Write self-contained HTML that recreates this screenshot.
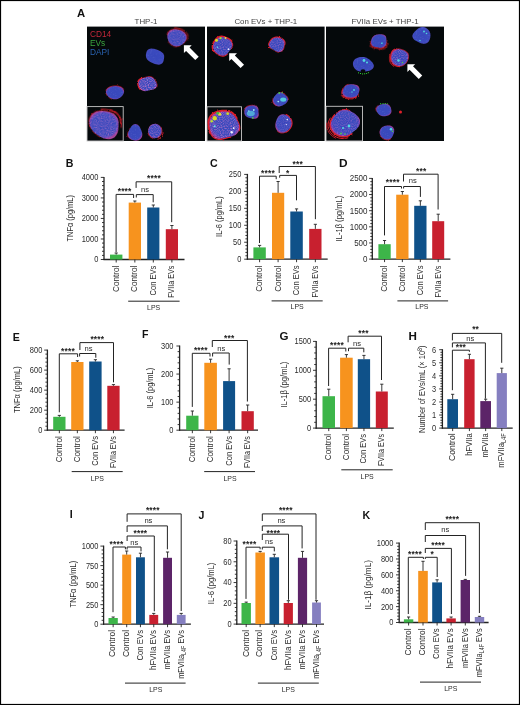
<!DOCTYPE html>
<html><head><meta charset="utf-8"><title>Figure</title>
<style>
html,body{margin:0;padding:0;background:#fff;}
body{width:520px;height:705px;overflow:hidden;font-family:"Liberation Sans", sans-serif;}
svg{display:block;will-change:transform;}
</style></head><body>
<svg width="520" height="705" viewBox="0 0 520 705" font-family='"Liberation Sans", sans-serif'><defs>
<radialGradient id="cg" cx="50%" cy="50%" r="50%">
<stop offset="0" stop-color="#3848bc"/><stop offset="0.8" stop-color="#3a4abe"/><stop offset="1" stop-color="#4448bc"/>
</radialGradient>
<radialGradient id="cgr" cx="50%" cy="50%" r="50%">
<stop offset="0" stop-color="#3848bc"/><stop offset="0.82" stop-color="#3b4abd"/><stop offset="0.95" stop-color="#6444b6"/><stop offset="1" stop-color="#983c94"/>
</radialGradient>
<filter id="speck" x="0" y="0" width="100%" height="100%">
<feTurbulence type="fractalNoise" baseFrequency="0.7" numOctaves="1" seed="3" result="n"/>
<feColorMatrix in="n" type="matrix" values="0 0 0 0 0.42  0 0 0 0 0.48  0 0 0 0 0.88  0 0 0 3 -1.6" result="m"/>
<feComposite in="m" in2="SourceGraphic" operator="in"/>
</filter>
<filter id="pspeck" x="0" y="0" width="100%" height="100%">
<feTurbulence type="fractalNoise" baseFrequency="0.9" numOctaves="1" seed="5" result="n"/>
<feColorMatrix in="n" type="matrix" values="0 0 0 0 0.92  0 0 0 0 0.25  0 0 0 0 0.62  0 0 0 3 -1.25" result="m"/>
<feComposite in="m" in2="SourceGraphic" operator="in"/>
</filter>
<filter id="rough" x="-40%" y="-40%" width="180%" height="180%">
<feTurbulence type="fractalNoise" baseFrequency="0.8" numOctaves="2" seed="7" result="n"/>
<feDisplacementMap in="SourceGraphic" in2="n" scale="2.2" xChannelSelector="R" yChannelSelector="G"/>
</filter>
</defs><rect x="0" y="0" width="520" height="705" fill="#fff"/><text x="77" y="17" font-size="11.3" font-weight="bold" fill="#111">A</text><rect x="87" y="26.6" width="118" height="114.4" fill="#05090b"/><text x="146" y="23.9" text-anchor="middle" font-size="7.9" fill="#444">THP-1</text><rect x="207" y="26.6" width="117.6" height="114.4" fill="#05090b"/><text x="265.8" y="23.9" text-anchor="middle" font-size="7.9" fill="#444">Con EVs + THP-1</text><rect x="326" y="26.6" width="118" height="114.4" fill="#05090b"/><text x="385" y="23.9" text-anchor="middle" font-size="7.9" fill="#444">FVIIa EVs + THP-1</text><text x="90" y="36.8" font-size="8.3" fill="#c4283a">CD14</text><text x="90" y="45.9" font-size="8.3" fill="#3ba53f">EVs</text><text x="90" y="54.6" font-size="8.3" fill="#2a62b0">DAPI</text><g transform="translate(176.7,37.6) rotate(10)"><path d="M-9.87 -1.54 L-9.71 -2.81 L-9.29 -4.05 L-8.59 -5.19 L-7.65 -6.18 L-6.51 -6.99 L-5.23 -7.58 L-3.89 -7.98 L-2.52 -8.2 L-1.17 -8.28 L0.15 -8.25 L1.47 -8.15 L2.77 -7.95 L4.08 -7.66 L5.37 -7.22 L6.6 -6.63 L7.73 -5.84 L8.69 -4.88 L9.41 -3.76 L9.87 -2.54 L10.05 -1.27 L9.97 -0" stroke="#dc1e2a" stroke-width="0.82" fill="none" stroke-linecap="round" filter="url(#rough)"/><path d="M9.92 0 L9.69 1 L9.34 1.96 L8.9 2.87 L8.39 3.73 L7.81 4.55 L7.18 5.34" stroke="#dc1e2a" stroke-width="0.66" fill="none" stroke-linecap="round" filter="url(#rough)"/><path d="M4.87 7.46 L3.72 8.15 L2.44 8.67 L1.07 9 L-0.36 9.08 L-1.78 8.92 L-3.13 8.52 L-4.36 7.91 L-5.45 7.15 L-6.39 6.28 L-7.19 5.34" stroke="#dc1e2a" stroke-width="0.66" fill="none" stroke-linecap="round" filter="url(#rough)"/><path d="M-3.78 -9.2 L-2.19 -9.38 L-0.62 -9.42 L0.92 -9.34 L2.45 -9.16 L3.98 -8.88 L5.5 -8.44 L6.98 -7.82 L8.36 -6.98 L9.56 -5.93 L10.5 -4.67 L11.12 -3.26 L11.41 -1.78" stroke="#dc1e2a" stroke-width="0.8" fill="none" stroke-linecap="round" filter="url(#rough)"/><path d="M9.72 0 L9.46 1.1 L9.05 2.15 L8.54 3.13 L7.94 4.06 L7.28 4.94 L6.54 5.79 L5.71 6.58 L4.77 7.31 L3.72 7.95 L2.56 8.45 L1.3 8.77 L0 8.9 L-1.31 8.81 L-2.58 8.52 L-3.76 8.03 L-4.82 7.4 L-5.76 6.65 L-6.57 5.82 L-7.27 4.94 L-7.88 4.03 L-8.41 3.08 L-8.87 2.1 L-9.25 1.08 L-9.51 0 L-9.63 -1.12 L-9.56 -2.27 L-9.28 -3.4 L-8.77 -4.48 L-8.04 -5.46 L-7.12 -6.3 L-6.05 -6.98 L-4.87 -7.48 L-3.65 -7.81 L-2.42 -8 L-1.2 -8.07 L-0 -8.06 L1.18 -7.97 L2.36 -7.81 L3.54 -7.58 L4.72 -7.24 L5.86 -6.77 L6.94 -6.15 L7.91 -5.37 L8.71 -4.45 L9.3 -3.41 L9.67 -2.29 L9.8 -1.14 L9.72 -0Z" fill="url(#cgr)"/><path d="M9.72 0 L9.46 1.1 L9.05 2.15 L8.54 3.13 L7.94 4.06 L7.28 4.94 L6.54 5.79 L5.71 6.58 L4.77 7.31 L3.72 7.95 L2.56 8.45 L1.3 8.77 L0 8.9 L-1.31 8.81 L-2.58 8.52 L-3.76 8.03 L-4.82 7.4 L-5.76 6.65 L-6.57 5.82 L-7.27 4.94 L-7.88 4.03 L-8.41 3.08 L-8.87 2.1 L-9.25 1.08 L-9.51 0 L-9.63 -1.12 L-9.56 -2.27 L-9.28 -3.4 L-8.77 -4.48 L-8.04 -5.46 L-7.12 -6.3 L-6.05 -6.98 L-4.87 -7.48 L-3.65 -7.81 L-2.42 -8 L-1.2 -8.07 L-0 -8.06 L1.18 -7.97 L2.36 -7.81 L3.54 -7.58 L4.72 -7.24 L5.86 -6.77 L6.94 -6.15 L7.91 -5.37 L8.71 -4.45 L9.3 -3.41 L9.67 -2.29 L9.8 -1.14 L9.72 -0Z" fill="#7080e8" opacity="0.15" filter="url(#speck)"/><path d="M9.72 0 L9.46 1.1 L9.05 2.15 L8.54 3.13 L7.94 4.06 L7.28 4.94 L6.54 5.79 L5.71 6.58 L4.77 7.31 L3.72 7.95 L2.56 8.45 L1.3 8.77 L0 8.9 L-1.31 8.81 L-2.58 8.52 L-3.76 8.03 L-4.82 7.4 L-5.76 6.65 L-6.57 5.82 L-7.27 4.94 L-7.88 4.03 L-8.41 3.08 L-8.87 2.1 L-9.25 1.08 L-9.51 0 L-9.63 -1.12 L-9.56 -2.27 L-9.28 -3.4 L-8.77 -4.48 L-8.04 -5.46 L-7.12 -6.3 L-6.05 -6.98 L-4.87 -7.48 L-3.65 -7.81 L-2.42 -8 L-1.2 -8.07 L-0 -8.06 L1.18 -7.97 L2.36 -7.81 L3.54 -7.58 L4.72 -7.24 L5.86 -6.77 L6.94 -6.15 L7.91 -5.37 L8.71 -4.45 L9.3 -3.41 L9.67 -2.29 L9.8 -1.14 L9.72 -0Z" fill="#e04090" opacity="0.35" filter="url(#pspeck)"/></g><g transform="translate(155.1,56.5) rotate(22)"><path d="M9.32 0 L9.46 0.93 L9.5 1.9 L9.38 2.89 L9.02 3.88 L8.39 4.79 L7.49 5.58 L6.38 6.19 L5.13 6.61 L3.82 6.86 L2.51 6.98 L1.24 7 L0 6.98 L-1.22 6.91 L-2.44 6.79 L-3.66 6.59 L-4.85 6.26 L-5.96 5.78 L-6.93 5.16 L-7.74 4.42 L-8.36 3.6 L-8.82 2.72 L-9.15 1.83 L-9.4 0.92 L-9.57 0 L-9.66 -0.95 L-9.62 -1.92 L-9.41 -2.9 L-8.96 -3.85 L-8.26 -4.72 L-7.34 -5.46 L-6.22 -6.04 L-5 -6.46 L-3.74 -6.72 L-2.48 -6.89 L-1.23 -6.98 L-0 -7.03 L1.24 -7.03 L2.5 -6.95 L3.76 -6.76 L4.97 -6.42 L6.08 -5.9 L7.02 -5.23 L7.76 -4.44 L8.3 -3.57 L8.67 -2.68 L8.94 -1.78 L9.15 -0.9 L9.32 -0Z" fill="url(#cg)"/><path d="M9.32 0 L9.46 0.93 L9.5 1.9 L9.38 2.89 L9.02 3.88 L8.39 4.79 L7.49 5.58 L6.38 6.19 L5.13 6.61 L3.82 6.86 L2.51 6.98 L1.24 7 L0 6.98 L-1.22 6.91 L-2.44 6.79 L-3.66 6.59 L-4.85 6.26 L-5.96 5.78 L-6.93 5.16 L-7.74 4.42 L-8.36 3.6 L-8.82 2.72 L-9.15 1.83 L-9.4 0.92 L-9.57 0 L-9.66 -0.95 L-9.62 -1.92 L-9.41 -2.9 L-8.96 -3.85 L-8.26 -4.72 L-7.34 -5.46 L-6.22 -6.04 L-5 -6.46 L-3.74 -6.72 L-2.48 -6.89 L-1.23 -6.98 L-0 -7.03 L1.24 -7.03 L2.5 -6.95 L3.76 -6.76 L4.97 -6.42 L6.08 -5.9 L7.02 -5.23 L7.76 -4.44 L8.3 -3.57 L8.67 -2.68 L8.94 -1.78 L9.15 -0.9 L9.32 -0Z" fill="#7080e8" opacity="0.15" filter="url(#speck)"/></g><g transform="translate(147.5,84) rotate(0)"><path d="M-7.45 5.2 L-8.11 4.19 L-8.63 3.14 L-9.05 2.08 L-9.39 1 L-9.61 -0.13 L-9.64 -1.28 L-9.41 -2.43 L-8.85 -3.5 L-8.01 -4.43 L-6.95 -5.17 L-5.77 -5.72" stroke="#dc1e2a" stroke-width="1.48" fill="none" stroke-linecap="round" filter="url(#rough)"/><path d="M-5.62 -5.57 L-4.44 -5.99 L-3.29 -6.34 L-2.16 -6.69 L-0.99 -7.04 L0.26 -7.34 L1.59 -7.49 L2.95 -7.41 L4.26 -7.05 L5.4 -6.42 L6.34 -5.59 L7.07 -4.65 L7.67 -3.68 L8.21 -2.71 L8.73 -1.72 L9.21 -0.67 L9.57 0.46 L9.67 1.66 L9.4 2.84" stroke="#dc1e2a" stroke-width="0.66" fill="none" stroke-linecap="round" filter="url(#rough)"/><path d="M9.25 0 L9.45 1.03 L9.4 2.09 L9.04 3.11 L8.36 4.01 L7.43 4.74 L6.33 5.27 L5.18 5.62 L4.06 5.85 L3.01 6.05 L2.02 6.26 L1.03 6.52 L0 6.8 L-1.11 7.04 L-2.3 7.15 L-3.52 7.07 L-4.69 6.75 L-5.74 6.22 L-6.61 5.5 L-7.31 4.66 L-7.85 3.77 L-8.28 2.85 L-8.64 1.92 L-8.93 0.98 L-9.14 0 L-9.2 -1.01 L-9.05 -2.02 L-8.66 -2.98 L-8.02 -3.85 L-7.17 -4.57 L-6.19 -5.15 L-5.15 -5.58 L-4.12 -5.93 L-3.11 -6.24 L-2.11 -6.55 L-1.09 -6.86 L-0 -7.13 L1.16 -7.31 L2.36 -7.31 L3.54 -7.11 L4.64 -6.68 L5.58 -6.05 L6.36 -5.29 L6.98 -4.46 L7.5 -3.6 L7.98 -2.75 L8.44 -1.88 L8.88 -0.97 L9.25 -0Z" fill="url(#cgr)"/><path d="M9.25 0 L9.45 1.03 L9.4 2.09 L9.04 3.11 L8.36 4.01 L7.43 4.74 L6.33 5.27 L5.18 5.62 L4.06 5.85 L3.01 6.05 L2.02 6.26 L1.03 6.52 L0 6.8 L-1.11 7.04 L-2.3 7.15 L-3.52 7.07 L-4.69 6.75 L-5.74 6.22 L-6.61 5.5 L-7.31 4.66 L-7.85 3.77 L-8.28 2.85 L-8.64 1.92 L-8.93 0.98 L-9.14 0 L-9.2 -1.01 L-9.05 -2.02 L-8.66 -2.98 L-8.02 -3.85 L-7.17 -4.57 L-6.19 -5.15 L-5.15 -5.58 L-4.12 -5.93 L-3.11 -6.24 L-2.11 -6.55 L-1.09 -6.86 L-0 -7.13 L1.16 -7.31 L2.36 -7.31 L3.54 -7.11 L4.64 -6.68 L5.58 -6.05 L6.36 -5.29 L6.98 -4.46 L7.5 -3.6 L7.98 -2.75 L8.44 -1.88 L8.88 -0.97 L9.25 -0Z" fill="#7080e8" opacity="0.15" filter="url(#speck)"/><path d="M9.25 0 L9.45 1.03 L9.4 2.09 L9.04 3.11 L8.36 4.01 L7.43 4.74 L6.33 5.27 L5.18 5.62 L4.06 5.85 L3.01 6.05 L2.02 6.26 L1.03 6.52 L0 6.8 L-1.11 7.04 L-2.3 7.15 L-3.52 7.07 L-4.69 6.75 L-5.74 6.22 L-6.61 5.5 L-7.31 4.66 L-7.85 3.77 L-8.28 2.85 L-8.64 1.92 L-8.93 0.98 L-9.14 0 L-9.2 -1.01 L-9.05 -2.02 L-8.66 -2.98 L-8.02 -3.85 L-7.17 -4.57 L-6.19 -5.15 L-5.15 -5.58 L-4.12 -5.93 L-3.11 -6.24 L-2.11 -6.55 L-1.09 -6.86 L-0 -7.13 L1.16 -7.31 L2.36 -7.31 L3.54 -7.11 L4.64 -6.68 L5.58 -6.05 L6.36 -5.29 L6.98 -4.46 L7.5 -3.6 L7.98 -2.75 L8.44 -1.88 L8.88 -0.97 L9.25 -0Z" fill="#e04090" opacity="0.6" filter="url(#pspeck)"/></g><g transform="translate(115,92.4) rotate(0)"><path d="M-8.96 -2.33 L-8.43 -3.22 L-7.68 -4.02 L-6.74 -4.71 L-5.67 -5.28 L-4.51 -5.72 L-3.29 -6.05 L-2.05 -6.28 L-0.79 -6.43 L0.5 -6.49 L1.8 -6.45 L3.1 -6.3 L4.39 -6.02 L5.61 -5.59 L6.72 -5.02 L7.68 -4.3 L8.42 -3.47" stroke="#dc1e2a" stroke-width="0.74" fill="none" stroke-linecap="round" filter="url(#rough)"/><path d="M-3.31 6.5 L-4.55 5.96 L-5.62 5.3 L-6.54 4.55 L-7.31 3.75 L-7.97 2.92 L-8.52 2.04 L-8.95 1.13" stroke="#dc1e2a" stroke-width="0.74" fill="none" stroke-linecap="round" filter="url(#rough)"/><path d="M8.96 0 L8.73 0.82 L8.39 1.61 L7.95 2.35 L7.43 3.07 L6.84 3.75 L6.17 4.41 L5.4 5.03 L4.53 5.6 L3.53 6.09 L2.43 6.49 L1.24 6.75 L0 6.85 L-1.25 6.79 L-2.47 6.57 L-3.6 6.21 L-4.62 5.72 L-5.53 5.15 L-6.31 4.51 L-6.99 3.83 L-7.58 3.13 L-8.08 2.39 L-8.51 1.63 L-8.83 0.83 L-9.04 0 L-9.08 -0.85 L-8.94 -1.71 L-8.61 -2.55 L-8.08 -3.33 L-7.37 -4.04 L-6.51 -4.65 L-5.54 -5.15 L-4.49 -5.56 L-3.4 -5.86 L-2.28 -6.09 L-1.15 -6.24 L-0 -6.32 L1.17 -6.33 L2.34 -6.25 L3.52 -6.06 L4.66 -5.76 L5.74 -5.34 L6.72 -4.8 L7.56 -4.14 L8.22 -3.39 L8.7 -2.57 L8.97 -1.72 L9.05 -0.85 L8.96 -0Z" fill="url(#cgr)"/><path d="M8.96 0 L8.73 0.82 L8.39 1.61 L7.95 2.35 L7.43 3.07 L6.84 3.75 L6.17 4.41 L5.4 5.03 L4.53 5.6 L3.53 6.09 L2.43 6.49 L1.24 6.75 L0 6.85 L-1.25 6.79 L-2.47 6.57 L-3.6 6.21 L-4.62 5.72 L-5.53 5.15 L-6.31 4.51 L-6.99 3.83 L-7.58 3.13 L-8.08 2.39 L-8.51 1.63 L-8.83 0.83 L-9.04 0 L-9.08 -0.85 L-8.94 -1.71 L-8.61 -2.55 L-8.08 -3.33 L-7.37 -4.04 L-6.51 -4.65 L-5.54 -5.15 L-4.49 -5.56 L-3.4 -5.86 L-2.28 -6.09 L-1.15 -6.24 L-0 -6.32 L1.17 -6.33 L2.34 -6.25 L3.52 -6.06 L4.66 -5.76 L5.74 -5.34 L6.72 -4.8 L7.56 -4.14 L8.22 -3.39 L8.7 -2.57 L8.97 -1.72 L9.05 -0.85 L8.96 -0Z" fill="#7080e8" opacity="0.15" filter="url(#speck)"/></g><g transform="translate(135.2,133) rotate(0)"><path d="M-6.95 4.23 L-7.42 3.04 L-7.6 1.78 L-7.5 0.52 L-7.17 -0.66 L-6.7 -1.73 L-6.2 -2.71 L-5.7 -3.64 L-5.21 -4.61" stroke="#dc1e2a" stroke-width="0.66" fill="none" stroke-linecap="round" filter="url(#rough)"/><path d="M6.91 0 L7.07 0.98 L7.11 2.01 L6.98 3.05 L6.68 4.07 L6.2 5.01 L5.55 5.85 L4.76 6.53 L3.87 7.06 L2.91 7.42 L1.94 7.62 L0.96 7.69 L0 7.66 L-0.94 7.55 L-1.87 7.36 L-2.79 7.11 L-3.71 6.77 L-4.6 6.31 L-5.43 5.73 L-6.18 5 L-6.78 4.12 L-7.19 3.14 L-7.39 2.09 L-7.39 1.03 L-7.2 0 L-6.87 -0.95 L-6.47 -1.83 L-6.04 -2.64 L-5.63 -3.42 L-5.22 -4.22 L-4.8 -5.05 L-4.31 -5.93 L-3.73 -6.8 L-2.99 -7.62 L-2.11 -8.3 L-1.09 -8.76 L-0 -8.95 L1.1 -8.84 L2.15 -8.44 L3.07 -7.82 L3.85 -7.02 L4.47 -6.14 L4.97 -5.24 L5.37 -4.34 L5.72 -3.48 L6.05 -2.64 L6.37 -1.8 L6.66 -0.92 L6.91 -0Z" fill="url(#cgr)"/><path d="M6.91 0 L7.07 0.98 L7.11 2.01 L6.98 3.05 L6.68 4.07 L6.2 5.01 L5.55 5.85 L4.76 6.53 L3.87 7.06 L2.91 7.42 L1.94 7.62 L0.96 7.69 L0 7.66 L-0.94 7.55 L-1.87 7.36 L-2.79 7.11 L-3.71 6.77 L-4.6 6.31 L-5.43 5.73 L-6.18 5 L-6.78 4.12 L-7.19 3.14 L-7.39 2.09 L-7.39 1.03 L-7.2 0 L-6.87 -0.95 L-6.47 -1.83 L-6.04 -2.64 L-5.63 -3.42 L-5.22 -4.22 L-4.8 -5.05 L-4.31 -5.93 L-3.73 -6.8 L-2.99 -7.62 L-2.11 -8.3 L-1.09 -8.76 L-0 -8.95 L1.1 -8.84 L2.15 -8.44 L3.07 -7.82 L3.85 -7.02 L4.47 -6.14 L4.97 -5.24 L5.37 -4.34 L5.72 -3.48 L6.05 -2.64 L6.37 -1.8 L6.66 -0.92 L6.91 -0Z" fill="#7080e8" opacity="0.15" filter="url(#speck)"/></g><g transform="translate(154.9,131) rotate(0)"><path d="M-1.23 7.37 L-2.26 7.12 L-3.24 6.7 L-4.16 6.13 L-4.98 5.4 L-5.67 4.55 L-6.23 3.59 L-6.64 2.56" stroke="#dc1e2a" stroke-width="0.98" fill="none" stroke-linecap="round" filter="url(#rough)"/><path d="M6.1 -3.73 L6.52 -2.76 L6.8 -1.75 L6.96 -0.7 L6.98 0.35 L6.87 1.4 L6.63 2.43 L6.25 3.41 L5.74 4.33 L5.11 5.16 L4.36 5.87 L3.52 6.46" stroke="#dc1e2a" stroke-width="0.82" fill="none" stroke-linecap="round" filter="url(#rough)"/><path d="M8.14 1.52 L7.86 2.79 L7.4 4.02 L6.77 5.15 L5.97 6.17 L5.03 7.04 L3.98 7.74 L2.84 8.26" stroke="#dc1e2a" stroke-width="0.8" fill="none" stroke-linecap="round" filter="url(#rough)"/><path d="M6.75 0 L6.7 0.93 L6.54 1.86 L6.27 2.75 L5.9 3.6 L5.41 4.4 L4.83 5.11 L4.15 5.73 L3.4 6.24 L2.6 6.65 L1.76 6.94 L0.88 7.11 L0 7.18 L-0.89 7.13 L-1.76 6.96 L-2.61 6.67 L-3.42 6.27 L-4.17 5.75 L-4.84 5.12 L-5.42 4.4 L-5.9 3.61 L-6.28 2.75 L-6.54 1.86 L-6.7 0.93 L-6.75 0 L-6.7 -0.93 L-6.54 -1.86 L-6.27 -2.75 L-5.9 -3.6 L-5.41 -4.4 L-4.83 -5.11 L-4.15 -5.73 L-3.4 -6.24 L-2.6 -6.65 L-1.76 -6.94 L-0.88 -7.11 L-0 -7.18 L0.89 -7.13 L1.76 -6.96 L2.61 -6.67 L3.42 -6.27 L4.17 -5.75 L4.84 -5.12 L5.42 -4.4 L5.9 -3.61 L6.28 -2.75 L6.54 -1.86 L6.7 -0.93 L6.75 -0Z" fill="url(#cgr)"/><path d="M6.75 0 L6.7 0.93 L6.54 1.86 L6.27 2.75 L5.9 3.6 L5.41 4.4 L4.83 5.11 L4.15 5.73 L3.4 6.24 L2.6 6.65 L1.76 6.94 L0.88 7.11 L0 7.18 L-0.89 7.13 L-1.76 6.96 L-2.61 6.67 L-3.42 6.27 L-4.17 5.75 L-4.84 5.12 L-5.42 4.4 L-5.9 3.61 L-6.28 2.75 L-6.54 1.86 L-6.7 0.93 L-6.75 0 L-6.7 -0.93 L-6.54 -1.86 L-6.27 -2.75 L-5.9 -3.6 L-5.41 -4.4 L-4.83 -5.11 L-4.15 -5.73 L-3.4 -6.24 L-2.6 -6.65 L-1.76 -6.94 L-0.88 -7.11 L-0 -7.18 L0.89 -7.13 L1.76 -6.96 L2.61 -6.67 L3.42 -6.27 L4.17 -5.75 L4.84 -5.12 L5.42 -4.4 L5.9 -3.61 L6.28 -2.75 L6.54 -1.86 L6.7 -0.93 L6.75 -0Z" fill="#7080e8" opacity="0.15" filter="url(#speck)"/><path d="M6.75 0 L6.7 0.93 L6.54 1.86 L6.27 2.75 L5.9 3.6 L5.41 4.4 L4.83 5.11 L4.15 5.73 L3.4 6.24 L2.6 6.65 L1.76 6.94 L0.88 7.11 L0 7.18 L-0.89 7.13 L-1.76 6.96 L-2.61 6.67 L-3.42 6.27 L-4.17 5.75 L-4.84 5.12 L-5.42 4.4 L-5.9 3.61 L-6.28 2.75 L-6.54 1.86 L-6.7 0.93 L-6.75 0 L-6.7 -0.93 L-6.54 -1.86 L-6.27 -2.75 L-5.9 -3.6 L-5.41 -4.4 L-4.83 -5.11 L-4.15 -5.73 L-3.4 -6.24 L-2.6 -6.65 L-1.76 -6.94 L-0.88 -7.11 L-0 -7.18 L0.89 -7.13 L1.76 -6.96 L2.61 -6.67 L3.42 -6.27 L4.17 -5.75 L4.84 -5.12 L5.42 -4.4 L5.9 -3.61 L6.28 -2.75 L6.54 -1.86 L6.7 -0.93 L6.75 -0Z" fill="#e04090" opacity="0.4" filter="url(#pspeck)"/></g><path d="M183.9 45.3 L191.7 45.3 L189.53 47.47 L198.72 56.66 L195.26 60.12 L186.07 50.93 L183.9 53.1Z" fill="#fff"/><rect x="87" y="106.6" width="36.2" height="34.4" fill="#05090b" stroke="#c8c8c8" stroke-width="0.9"/><g transform="translate(104.6,124.5) rotate(10)"><path d="M-14.02 4.57 L-14.92 2.79 L-15.56 0.88 L-15.9 -1.13 L-15.89 -3.21 L-15.48 -5.29 L-14.62 -7.28 L-13.31 -9.07 L-11.62 -10.56 L-9.64 -11.71 L-7.49 -12.51 L-5.29 -13" stroke="#dc1e2a" stroke-width="0.9" fill="none" stroke-linecap="round" filter="url(#rough)"/><path d="M-5.27 -12.95 L-3.05 -13.21 L-0.87 -13.3 L1.3 -13.26 L3.46 -13.06 L5.61 -12.63 L7.68 -11.91" stroke="#dc1e2a" stroke-width="0.74" fill="none" stroke-linecap="round" filter="url(#rough)"/><path d="M-2.53 12.85 L-4.52 12.03 L-6.39 11.14 L-8.16 10.16 L-9.85 9.04 L-11.42 7.74 L-12.82 6.24 L-14 4.56" stroke="#dc1e2a" stroke-width="0.82" fill="none" stroke-linecap="round" filter="url(#rough)"/><path d="M-5.95 -14.62 L-3.35 -14.91 L-0.8 -15.01 L1.73 -14.94 L4.26 -14.68 L6.76 -14.13 L9.16 -13.21 L11.3 -11.85 L13.04 -10.11 L14.31 -8.09 L15.14 -5.93 L15.63 -3.75" stroke="#dc1e2a" stroke-width="1" fill="none" stroke-linecap="round" filter="url(#rough)"/><path d="M3.06 -15.53 L5.51 -15.17 L7.91 -14.52 L10.18 -13.5 L12.18 -12.1 L13.8 -10.36 L15.01 -8.39 L15.8 -6.3 L16.3 -4.18 L16.62 -2.09 L16.86 -0" stroke="#dc1e2a" stroke-width="0.9" fill="none" stroke-linecap="round" filter="url(#rough)"/><path d="M14.08 0 L14.24 1.68 L14.33 3.44 L14.26 5.28 L13.91 7.19 L13.18 9.05 L12.03 10.76 L10.45 12.18 L8.53 13.23 L6.41 13.84 L4.2 14.03 L2.04 13.87 L0 13.45 L-1.89 12.87 L-3.65 12.19 L-5.3 11.45 L-6.88 10.66 L-8.39 9.78 L-9.83 8.8 L-11.18 7.67 L-12.4 6.4 L-13.46 4.99 L-14.34 3.44 L-15.02 1.77 L-15.48 0 L-15.66 -1.85 L-15.54 -3.73 L-15.08 -5.59 L-14.24 -7.36 L-13.04 -8.95 L-11.52 -10.31 L-9.75 -11.37 L-7.84 -12.14 L-5.86 -12.65 L-3.88 -12.94 L-1.93 -13.08 L-0 -13.11 L1.92 -13.03 L3.84 -12.81 L5.74 -12.4 L7.57 -11.74 L9.26 -10.8 L10.72 -9.59 L11.88 -8.16 L12.73 -6.58 L13.29 -4.93 L13.65 -3.27 L13.89 -1.64 L14.08 -0Z" fill="url(#cgr)"/><path d="M14.08 0 L14.24 1.68 L14.33 3.44 L14.26 5.28 L13.91 7.19 L13.18 9.05 L12.03 10.76 L10.45 12.18 L8.53 13.23 L6.41 13.84 L4.2 14.03 L2.04 13.87 L0 13.45 L-1.89 12.87 L-3.65 12.19 L-5.3 11.45 L-6.88 10.66 L-8.39 9.78 L-9.83 8.8 L-11.18 7.67 L-12.4 6.4 L-13.46 4.99 L-14.34 3.44 L-15.02 1.77 L-15.48 0 L-15.66 -1.85 L-15.54 -3.73 L-15.08 -5.59 L-14.24 -7.36 L-13.04 -8.95 L-11.52 -10.31 L-9.75 -11.37 L-7.84 -12.14 L-5.86 -12.65 L-3.88 -12.94 L-1.93 -13.08 L-0 -13.11 L1.92 -13.03 L3.84 -12.81 L5.74 -12.4 L7.57 -11.74 L9.26 -10.8 L10.72 -9.59 L11.88 -8.16 L12.73 -6.58 L13.29 -4.93 L13.65 -3.27 L13.89 -1.64 L14.08 -0Z" fill="#7080e8" opacity="0.15" filter="url(#speck)"/><path d="M14.08 0 L14.24 1.68 L14.33 3.44 L14.26 5.28 L13.91 7.19 L13.18 9.05 L12.03 10.76 L10.45 12.18 L8.53 13.23 L6.41 13.84 L4.2 14.03 L2.04 13.87 L0 13.45 L-1.89 12.87 L-3.65 12.19 L-5.3 11.45 L-6.88 10.66 L-8.39 9.78 L-9.83 8.8 L-11.18 7.67 L-12.4 6.4 L-13.46 4.99 L-14.34 3.44 L-15.02 1.77 L-15.48 0 L-15.66 -1.85 L-15.54 -3.73 L-15.08 -5.59 L-14.24 -7.36 L-13.04 -8.95 L-11.52 -10.31 L-9.75 -11.37 L-7.84 -12.14 L-5.86 -12.65 L-3.88 -12.94 L-1.93 -13.08 L-0 -13.11 L1.92 -13.03 L3.84 -12.81 L5.74 -12.4 L7.57 -11.74 L9.26 -10.8 L10.72 -9.59 L11.88 -8.16 L12.73 -6.58 L13.29 -4.93 L13.65 -3.27 L13.89 -1.64 L14.08 -0Z" fill="#e04090" opacity="0.45" filter="url(#pspeck)"/></g><g transform="translate(222.5,46.2) rotate(0)"><path d="M-8.63 4.77 L-9.32 3.57 L-9.77 2.27 L-9.95 0.91 L-9.86 -0.45 L-9.54 -1.76 L-9.06 -3 L-8.48 -4.18 L-7.81 -5.32 L-7.04 -6.43 L-6.13 -7.47 L-5.06 -8.39 L-3.81 -9.11 L-2.42 -9.56 L-0.97 -9.7 L0.48 -9.56 L1.85 -9.2 L3.15 -8.71 L4.39 -8.16 L5.61 -7.55 L6.83 -6.86 L8.01 -6.03 L9.07 -5.02" stroke="#dc1e2a" stroke-width="1.8" fill="none" stroke-linecap="round" filter="url(#rough)"/><path d="M8.85 -4.89 L9.66 -3.67 L10.12 -2.3 L10.18 -0.85 L9.87 0.55 L9.28 1.83 L8.54 2.98" stroke="#dc1e2a" stroke-width="0.98" fill="none" stroke-linecap="round" filter="url(#rough)"/><path d="M4.78 7.92 L3.69 8.82 L2.41 9.5 L0.98 9.87 L-0.49 9.9 L-1.93 9.61 L-3.28 9.07 L-4.5 8.36 L-5.62 7.56 L-6.66 6.69 L-7.61 5.73 L-8.46 4.67" stroke="#dc1e2a" stroke-width="1.15" fill="none" stroke-linecap="round" filter="url(#rough)"/><path d="M9.73 0 L9.31 1.17 L8.72 2.24 L8.06 3.2 L7.39 4.09 L6.75 4.96 L6.1 5.84 L5.41 6.75 L4.61 7.64 L3.65 8.44 L2.54 9.07 L1.3 9.46 L0 9.58 L-1.29 9.42 L-2.53 9.03 L-3.67 8.48 L-4.71 7.82 L-5.68 7.09 L-6.58 6.3 L-7.42 5.45 L-8.16 4.51 L-8.76 3.47 L-9.18 2.36 L-9.39 1.18 L-9.38 0 L-9.17 -1.16 L-8.81 -2.26 L-8.35 -3.31 L-7.81 -4.32 L-7.21 -5.3 L-6.52 -6.25 L-5.72 -7.14 L-4.78 -7.93 L-3.71 -8.57 L-2.51 -8.99 L-1.26 -9.16 L-0 -9.11 L1.22 -8.86 L2.37 -8.48 L3.47 -8.03 L4.54 -7.53 L5.6 -6.98 L6.65 -6.37 L7.67 -5.63 L8.58 -4.74 L9.3 -3.69 L9.76 -2.5 L9.9 -1.25 L9.73 -0Z" fill="url(#cgr)"/><path d="M9.73 0 L9.31 1.17 L8.72 2.24 L8.06 3.2 L7.39 4.09 L6.75 4.96 L6.1 5.84 L5.41 6.75 L4.61 7.64 L3.65 8.44 L2.54 9.07 L1.3 9.46 L0 9.58 L-1.29 9.42 L-2.53 9.03 L-3.67 8.48 L-4.71 7.82 L-5.68 7.09 L-6.58 6.3 L-7.42 5.45 L-8.16 4.51 L-8.76 3.47 L-9.18 2.36 L-9.39 1.18 L-9.38 0 L-9.17 -1.16 L-8.81 -2.26 L-8.35 -3.31 L-7.81 -4.32 L-7.21 -5.3 L-6.52 -6.25 L-5.72 -7.14 L-4.78 -7.93 L-3.71 -8.57 L-2.51 -8.99 L-1.26 -9.16 L-0 -9.11 L1.22 -8.86 L2.37 -8.48 L3.47 -8.03 L4.54 -7.53 L5.6 -6.98 L6.65 -6.37 L7.67 -5.63 L8.58 -4.74 L9.3 -3.69 L9.76 -2.5 L9.9 -1.25 L9.73 -0Z" fill="#7080e8" opacity="0.15" filter="url(#speck)"/><path d="M9.73 0 L9.31 1.17 L8.72 2.24 L8.06 3.2 L7.39 4.09 L6.75 4.96 L6.1 5.84 L5.41 6.75 L4.61 7.64 L3.65 8.44 L2.54 9.07 L1.3 9.46 L0 9.58 L-1.29 9.42 L-2.53 9.03 L-3.67 8.48 L-4.71 7.82 L-5.68 7.09 L-6.58 6.3 L-7.42 5.45 L-8.16 4.51 L-8.76 3.47 L-9.18 2.36 L-9.39 1.18 L-9.38 0 L-9.17 -1.16 L-8.81 -2.26 L-8.35 -3.31 L-7.81 -4.32 L-7.21 -5.3 L-6.52 -6.25 L-5.72 -7.14 L-4.78 -7.93 L-3.71 -8.57 L-2.51 -8.99 L-1.26 -9.16 L-0 -9.11 L1.22 -8.86 L2.37 -8.48 L3.47 -8.03 L4.54 -7.53 L5.6 -6.98 L6.65 -6.37 L7.67 -5.63 L8.58 -4.74 L9.3 -3.69 L9.76 -2.5 L9.9 -1.25 L9.73 -0Z" fill="#e04090" opacity="0.35" filter="url(#pspeck)"/><circle cx="-6" cy="-6" r="1.5" fill="#d8e020"/><circle cx="-2" cy="-8" r="1.1" fill="#9be02a"/><circle cx="3" cy="-8.3" r="1" fill="#e0e040"/><circle cx="6" cy="3" r="0.9" fill="#e8e8ff"/><circle cx="-5" cy="1" r="0.7" fill="#60e0e8"/></g><g transform="translate(277.2,44.5) rotate(0)"><path d="M-7.03 3.45 L-7.78 2.66 L-8.3 1.74 L-8.53 0.73 L-8.49 -0.29 L-8.22 -1.28 L-7.79 -2.21 L-7.27 -3.09 L-6.7 -3.93 L-6.05 -4.75 L-5.31 -5.53 L-4.43 -6.23 L-3.41 -6.8 L-2.27 -7.19 L-1.05 -7.37 L0.17 -7.36 L1.37 -7.17 L2.52 -6.86 L3.6 -6.46 L4.63 -5.96 L5.59 -5.36 L6.43 -4.65 L7.09 -3.81 L7.54 -2.88 L7.74 -1.91 L7.72 -0.93 L7.56 -0" stroke="#dc1e2a" stroke-width="1.15" fill="none" stroke-linecap="round" filter="url(#rough)"/><path d="M7.47 0 L7.24 0.93 L7.02 1.84 L6.83 2.8 L6.62 3.84 L6.26 4.94 L5.65 6.02 L4.72 6.95" stroke="#dc1e2a" stroke-width="0.82" fill="none" stroke-linecap="round" filter="url(#rough)"/><path d="M1.62 7.8 L0.19 7.54 L-1.08 7 L-2.18 6.36 L-3.14 5.72 L-4.05 5.16 L-5 4.64 L-5.98 4.08 L-6.92 3.4" stroke="#dc1e2a" stroke-width="0.74" fill="none" stroke-linecap="round" filter="url(#rough)"/><path d="M7.25 0 L7.05 0.79 L6.86 1.56 L6.7 2.36 L6.53 3.21 L6.31 4.12 L5.95 5.06 L5.39 5.97 L4.58 6.74 L3.56 7.3 L2.39 7.57 L1.17 7.55 L0 7.27 L-1.06 6.82 L-1.98 6.28 L-2.8 5.74 L-3.56 5.25 L-4.33 4.8 L-5.13 4.36 L-5.95 3.88 L-6.74 3.31 L-7.41 2.61 L-7.9 1.8 L-8.16 0.91 L-8.18 0 L-7.99 -0.89 L-7.66 -1.74 L-7.23 -2.55 L-6.74 -3.31 L-6.21 -4.05 L-5.61 -4.77 L-4.92 -5.45 L-4.12 -6.06 L-3.19 -6.55 L-2.17 -6.89 L-1.09 -7.06 L-0 -7.07 L1.07 -6.93 L2.1 -6.68 L3.09 -6.34 L4.03 -5.93 L4.91 -5.44 L5.72 -4.86 L6.41 -4.18 L6.95 -3.41 L7.29 -2.57 L7.43 -1.69 L7.4 -0.83 L7.25 -0Z" fill="url(#cgr)"/><path d="M7.25 0 L7.05 0.79 L6.86 1.56 L6.7 2.36 L6.53 3.21 L6.31 4.12 L5.95 5.06 L5.39 5.97 L4.58 6.74 L3.56 7.3 L2.39 7.57 L1.17 7.55 L0 7.27 L-1.06 6.82 L-1.98 6.28 L-2.8 5.74 L-3.56 5.25 L-4.33 4.8 L-5.13 4.36 L-5.95 3.88 L-6.74 3.31 L-7.41 2.61 L-7.9 1.8 L-8.16 0.91 L-8.18 0 L-7.99 -0.89 L-7.66 -1.74 L-7.23 -2.55 L-6.74 -3.31 L-6.21 -4.05 L-5.61 -4.77 L-4.92 -5.45 L-4.12 -6.06 L-3.19 -6.55 L-2.17 -6.89 L-1.09 -7.06 L-0 -7.07 L1.07 -6.93 L2.1 -6.68 L3.09 -6.34 L4.03 -5.93 L4.91 -5.44 L5.72 -4.86 L6.41 -4.18 L6.95 -3.41 L7.29 -2.57 L7.43 -1.69 L7.4 -0.83 L7.25 -0Z" fill="#7080e8" opacity="0.15" filter="url(#speck)"/><path d="M7.25 0 L7.05 0.79 L6.86 1.56 L6.7 2.36 L6.53 3.21 L6.31 4.12 L5.95 5.06 L5.39 5.97 L4.58 6.74 L3.56 7.3 L2.39 7.57 L1.17 7.55 L0 7.27 L-1.06 6.82 L-1.98 6.28 L-2.8 5.74 L-3.56 5.25 L-4.33 4.8 L-5.13 4.36 L-5.95 3.88 L-6.74 3.31 L-7.41 2.61 L-7.9 1.8 L-8.16 0.91 L-8.18 0 L-7.99 -0.89 L-7.66 -1.74 L-7.23 -2.55 L-6.74 -3.31 L-6.21 -4.05 L-5.61 -4.77 L-4.92 -5.45 L-4.12 -6.06 L-3.19 -6.55 L-2.17 -6.89 L-1.09 -7.06 L-0 -7.07 L1.07 -6.93 L2.1 -6.68 L3.09 -6.34 L4.03 -5.93 L4.91 -5.44 L5.72 -4.86 L6.41 -4.18 L6.95 -3.41 L7.29 -2.57 L7.43 -1.69 L7.4 -0.83 L7.25 -0Z" fill="#e04090" opacity="0.35" filter="url(#pspeck)"/></g><g transform="translate(280.2,99.6) rotate(0)"><path d="M1.28 -7.24 L2.22 -6.84 L3.08 -6.32 L3.87 -5.74 L4.63 -5.14 L5.38 -4.51 L6.13 -3.83 L6.83 -3.04 L7.43 -2.13 L7.84 -1.1 L7.98 0" stroke="#dc1e2a" stroke-width="0.74" fill="none" stroke-linecap="round" filter="url(#rough)"/><path d="M-3.74 6.48 L-4.75 5.92 L-5.66 5.19 L-6.45 4.31 L-7.05 3.29 L-7.42 2.16 L-7.53 0.99 L-7.38 -0.16 L-7.02 -1.24" stroke="#dc1e2a" stroke-width="0.66" fill="none" stroke-linecap="round" filter="url(#rough)"/><path d="M7.74 0 L7.61 1 L7.24 1.94 L6.69 2.77 L6.02 3.47 L5.29 4.06 L4.55 4.55 L3.83 4.99 L3.12 5.41 L2.41 5.82 L1.66 6.19 L0.86 6.51 L0 6.74 L-0.9 6.85 L-1.83 6.81 L-2.75 6.63 L-3.64 6.3 L-4.49 5.85 L-5.27 5.27 L-5.96 4.57 L-6.54 3.78 L-6.98 2.89 L-7.25 1.94 L-7.32 0.96 L-7.21 0 L-6.94 -0.91 L-6.55 -1.76 L-6.09 -2.52 L-5.59 -3.23 L-5.08 -3.9 L-4.56 -4.56 L-4.01 -5.22 L-3.38 -5.86 L-2.67 -6.43 L-1.84 -6.89 L-0.94 -7.16 L-0 -7.24 L0.94 -7.1 L1.82 -6.79 L2.63 -6.36 L3.38 -5.85 L4.08 -5.31 L4.76 -4.76 L5.44 -4.18 L6.12 -3.53 L6.74 -2.79 L7.27 -1.95 L7.61 -1 L7.74 -0Z" fill="url(#cgr)"/><path d="M7.74 0 L7.61 1 L7.24 1.94 L6.69 2.77 L6.02 3.47 L5.29 4.06 L4.55 4.55 L3.83 4.99 L3.12 5.41 L2.41 5.82 L1.66 6.19 L0.86 6.51 L0 6.74 L-0.9 6.85 L-1.83 6.81 L-2.75 6.63 L-3.64 6.3 L-4.49 5.85 L-5.27 5.27 L-5.96 4.57 L-6.54 3.78 L-6.98 2.89 L-7.25 1.94 L-7.32 0.96 L-7.21 0 L-6.94 -0.91 L-6.55 -1.76 L-6.09 -2.52 L-5.59 -3.23 L-5.08 -3.9 L-4.56 -4.56 L-4.01 -5.22 L-3.38 -5.86 L-2.67 -6.43 L-1.84 -6.89 L-0.94 -7.16 L-0 -7.24 L0.94 -7.1 L1.82 -6.79 L2.63 -6.36 L3.38 -5.85 L4.08 -5.31 L4.76 -4.76 L5.44 -4.18 L6.12 -3.53 L6.74 -2.79 L7.27 -1.95 L7.61 -1 L7.74 -0Z" fill="#7080e8" opacity="0.15" filter="url(#speck)"/><ellipse cx="3" cy="0" rx="3" ry="2.2" fill="#58d8e0" opacity="0.9"/><circle cx="-1" cy="-6.6" r="0.9" fill="#4fd04a"/><circle cx="2" cy="-6.8" r="0.7" fill="#4fd04a"/><circle cx="-2" cy="2" r="0.8" fill="#a8f0f0"/></g><g transform="translate(251.8,112) rotate(0)"><path d="M-7.51 -2.31 L-7.15 -3.26 L-6.59 -4.15 L-5.82 -4.92 L-4.88 -5.54 L-3.83 -6 L-2.72 -6.33 L-1.6 -6.55 L-0.46 -6.72 L0.71 -6.82 L1.91 -6.83 L3.14 -6.68 L4.31 -6.32" stroke="#dc1e2a" stroke-width="0.66" fill="none" stroke-linecap="round" filter="url(#rough)"/><path d="M6.67 0 L6.76 0.75 L6.88 1.56 L6.97 2.44 L6.92 3.38 L6.66 4.32 L6.13 5.19 L5.35 5.9 L4.38 6.41 L3.28 6.7 L2.15 6.79 L1.05 6.72 L0 6.56 L-0.99 6.36 L-1.94 6.12 L-2.86 5.85 L-3.77 5.53 L-4.64 5.11 L-5.43 4.59 L-6.11 3.96 L-6.65 3.25 L-7.04 2.47 L-7.31 1.66 L-7.47 0.83 L-7.54 0 L-7.54 -0.84 L-7.45 -1.69 L-7.24 -2.54 L-6.88 -3.36 L-6.36 -4.13 L-5.68 -4.8 L-4.86 -5.35 L-3.94 -5.78 L-2.98 -6.09 L-2 -6.31 L-1.01 -6.48 L-0 -6.6 L1.04 -6.67 L2.1 -6.65 L3.18 -6.49 L4.2 -6.16 L5.11 -5.64 L5.84 -4.94 L6.34 -4.12 L6.61 -3.23 L6.7 -2.35 L6.68 -1.52 L6.65 -0.74 L6.67 -0Z" fill="url(#cgr)"/><path d="M6.67 0 L6.76 0.75 L6.88 1.56 L6.97 2.44 L6.92 3.38 L6.66 4.32 L6.13 5.19 L5.35 5.9 L4.38 6.41 L3.28 6.7 L2.15 6.79 L1.05 6.72 L0 6.56 L-0.99 6.36 L-1.94 6.12 L-2.86 5.85 L-3.77 5.53 L-4.64 5.11 L-5.43 4.59 L-6.11 3.96 L-6.65 3.25 L-7.04 2.47 L-7.31 1.66 L-7.47 0.83 L-7.54 0 L-7.54 -0.84 L-7.45 -1.69 L-7.24 -2.54 L-6.88 -3.36 L-6.36 -4.13 L-5.68 -4.8 L-4.86 -5.35 L-3.94 -5.78 L-2.98 -6.09 L-2 -6.31 L-1.01 -6.48 L-0 -6.6 L1.04 -6.67 L2.1 -6.65 L3.18 -6.49 L4.2 -6.16 L5.11 -5.64 L5.84 -4.94 L6.34 -4.12 L6.61 -3.23 L6.7 -2.35 L6.68 -1.52 L6.65 -0.74 L6.67 -0Z" fill="#7080e8" opacity="0.15" filter="url(#speck)"/><ellipse cx="-1" cy="1.5" rx="4" ry="2.8" fill="#58c8e0" opacity="0.75"/><circle cx="2" cy="-2" r="0.9" fill="#a0f0f0"/><circle cx="-3" cy="-1" r="0.8" fill="#80e8f0"/><circle cx="1" cy="5.8" r="0.9" fill="#4fd04a"/></g><g transform="translate(283.3,123.6) rotate(0)"><path d="M2.97 -8.94 L4.08 -8.33 L5.11 -7.58 L6.06 -6.71 L6.9 -5.72 L7.63 -4.61 L8.19 -3.38 L8.55 -2.06 L8.69 -0.69 L8.61 0.68 L8.31 2 L7.83 3.23 L7.21 4.35 L6.47 5.36 L5.65 6.27 L4.77 7.08 L3.81 7.8 L2.79 8.42" stroke="#dc1e2a" stroke-width="1.23" fill="none" stroke-linecap="round" filter="url(#rough)"/><path d="M2.76 8.31 L1.63 8.83 L0.42 9.2 L-0.86 9.38 L-2.17 9.34 L-3.47 9.04 L-4.72 8.47 L-5.84 7.64" stroke="#dc1e2a" stroke-width="0.82" fill="none" stroke-linecap="round" filter="url(#rough)"/><path d="M8.34 0 L8.18 1.18 L7.85 2.31 L7.39 3.36 L6.83 4.33 L6.18 5.2 L5.46 5.99 L4.69 6.71 L3.87 7.35 L2.99 7.92 L2.05 8.4 L1.05 8.78 L0 9.04 L-1.1 9.15 L-2.22 9.08 L-3.33 8.82 L-4.4 8.36 L-5.38 7.7 L-6.24 6.85 L-6.94 5.84 L-7.46 4.73 L-7.79 3.54 L-7.94 2.34 L-7.94 1.15 L-7.81 0 L-7.6 -1.1 L-7.32 -2.15 L-6.99 -3.18 L-6.6 -4.18 L-6.15 -5.18 L-5.59 -6.14 L-4.92 -7.04 L-4.13 -7.85 L-3.21 -8.51 L-2.19 -8.99 L-1.11 -9.26 L-0 -9.32 L1.1 -9.19 L2.17 -8.88 L3.18 -8.43 L4.13 -7.86 L5.02 -7.19 L5.85 -6.42 L6.59 -5.55 L7.23 -4.58 L7.75 -3.53 L8.12 -2.39 L8.32 -1.2 L8.34 -0Z" fill="url(#cgr)"/><path d="M8.34 0 L8.18 1.18 L7.85 2.31 L7.39 3.36 L6.83 4.33 L6.18 5.2 L5.46 5.99 L4.69 6.71 L3.87 7.35 L2.99 7.92 L2.05 8.4 L1.05 8.78 L0 9.04 L-1.1 9.15 L-2.22 9.08 L-3.33 8.82 L-4.4 8.36 L-5.38 7.7 L-6.24 6.85 L-6.94 5.84 L-7.46 4.73 L-7.79 3.54 L-7.94 2.34 L-7.94 1.15 L-7.81 0 L-7.6 -1.1 L-7.32 -2.15 L-6.99 -3.18 L-6.6 -4.18 L-6.15 -5.18 L-5.59 -6.14 L-4.92 -7.04 L-4.13 -7.85 L-3.21 -8.51 L-2.19 -8.99 L-1.11 -9.26 L-0 -9.32 L1.1 -9.19 L2.17 -8.88 L3.18 -8.43 L4.13 -7.86 L5.02 -7.19 L5.85 -6.42 L6.59 -5.55 L7.23 -4.58 L7.75 -3.53 L8.12 -2.39 L8.32 -1.2 L8.34 -0Z" fill="#7080e8" opacity="0.15" filter="url(#speck)"/><path d="M8.34 0 L8.18 1.18 L7.85 2.31 L7.39 3.36 L6.83 4.33 L6.18 5.2 L5.46 5.99 L4.69 6.71 L3.87 7.35 L2.99 7.92 L2.05 8.4 L1.05 8.78 L0 9.04 L-1.1 9.15 L-2.22 9.08 L-3.33 8.82 L-4.4 8.36 L-5.38 7.7 L-6.24 6.85 L-6.94 5.84 L-7.46 4.73 L-7.79 3.54 L-7.94 2.34 L-7.94 1.15 L-7.81 0 L-7.6 -1.1 L-7.32 -2.15 L-6.99 -3.18 L-6.6 -4.18 L-6.15 -5.18 L-5.59 -6.14 L-4.92 -7.04 L-4.13 -7.85 L-3.21 -8.51 L-2.19 -8.99 L-1.11 -9.26 L-0 -9.32 L1.1 -9.19 L2.17 -8.88 L3.18 -8.43 L4.13 -7.86 L5.02 -7.19 L5.85 -6.42 L6.59 -5.55 L7.23 -4.58 L7.75 -3.53 L8.12 -2.39 L8.32 -1.2 L8.34 -0Z" fill="#e04090" opacity="0.2" filter="url(#pspeck)"/><circle cx="4" cy="-4" r="0.8" fill="#e8e8ff"/><circle cx="3" cy="1" r="0.7" fill="#e8e8ff"/></g><path d="M229.2 53.3 L237 53.3 L234.83 55.47 L244.02 64.66 L240.56 68.12 L231.37 58.93 L229.2 61.1Z" fill="#fff"/><rect x="207" y="106.8" width="34.5" height="34.2" fill="#05090b" stroke="#c8c8c8" stroke-width="0.9"/><g transform="translate(223.7,125.2) rotate(0)"><path d="M-13.48 7.57 L-14.09 5.49 L-14.51 3.42 L-14.83 1.38 L-15.04 -0.7 L-15.07 -2.82 L-14.79 -4.98 L-14.11 -7.07 L-12.97 -8.99 L-11.44 -10.61 L-9.61 -11.88 L-7.61 -12.83 L-5.56 -13.5 L-3.49 -13.97 L-1.4 -14.29 L0.71 -14.42 L2.84 -14.32 L4.94 -13.88 L6.94 -13.09 L8.74 -11.93 L10.29 -10.5 L11.61 -8.88 L12.75 -7.16" stroke="#dc1e2a" stroke-width="2.3" fill="none" stroke-linecap="round" filter="url(#rough)"/><path d="M12.47 -7 L13.5 -5.22 L14.46 -3.33 L15.3 -1.3 L15.87 0.9 L16.01 3.22 L15.56 5.51" stroke="#dc1e2a" stroke-width="1.15" fill="none" stroke-linecap="round" filter="url(#rough)"/><path d="M6.97 11.74 L4.99 12.11 L3.12 12.51 L1.28 13.01 L-0.66 13.54 L-2.77 13.96 L-5 14.06 L-7.24 13.67 L-9.31 12.72 L-11.04 11.27 L-12.36 9.45 L-13.26 7.45" stroke="#dc1e2a" stroke-width="1.48" fill="none" stroke-linecap="round" filter="url(#rough)"/><path d="M15.32 0 L15.64 2 L15.54 4.05 L14.95 6.02 L13.85 7.78 L12.34 9.21 L10.54 10.25 L8.64 10.95 L6.76 11.39 L4.99 11.73 L3.33 12.07 L1.69 12.5 L0 12.97 L-1.81 13.41 L-3.76 13.65 L-5.77 13.55 L-7.73 13.02 L-9.49 12.03 L-10.96 10.66 L-12.08 9.02 L-12.87 7.23 L-13.42 5.41 L-13.8 3.6 L-14.09 1.8 L-14.31 0 L-14.41 -1.84 L-14.3 -3.73 L-13.9 -5.6 L-13.16 -7.39 L-12.06 -9 L-10.65 -10.36 L-9.02 -11.44 L-7.27 -12.25 L-5.47 -12.85 L-3.66 -13.28 L-1.84 -13.58 L-0 -13.75 L1.86 -13.75 L3.72 -13.51 L5.53 -12.98 L7.22 -12.16 L8.74 -11.07 L10.05 -9.78 L11.18 -8.35 L12.18 -6.84 L13.09 -5.27 L13.95 -3.63 L14.72 -1.88 L15.32 -0Z" fill="url(#cgr)"/><path d="M15.32 0 L15.64 2 L15.54 4.05 L14.95 6.02 L13.85 7.78 L12.34 9.21 L10.54 10.25 L8.64 10.95 L6.76 11.39 L4.99 11.73 L3.33 12.07 L1.69 12.5 L0 12.97 L-1.81 13.41 L-3.76 13.65 L-5.77 13.55 L-7.73 13.02 L-9.49 12.03 L-10.96 10.66 L-12.08 9.02 L-12.87 7.23 L-13.42 5.41 L-13.8 3.6 L-14.09 1.8 L-14.31 0 L-14.41 -1.84 L-14.3 -3.73 L-13.9 -5.6 L-13.16 -7.39 L-12.06 -9 L-10.65 -10.36 L-9.02 -11.44 L-7.27 -12.25 L-5.47 -12.85 L-3.66 -13.28 L-1.84 -13.58 L-0 -13.75 L1.86 -13.75 L3.72 -13.51 L5.53 -12.98 L7.22 -12.16 L8.74 -11.07 L10.05 -9.78 L11.18 -8.35 L12.18 -6.84 L13.09 -5.27 L13.95 -3.63 L14.72 -1.88 L15.32 -0Z" fill="#7080e8" opacity="0.15" filter="url(#speck)"/><path d="M15.32 0 L15.64 2 L15.54 4.05 L14.95 6.02 L13.85 7.78 L12.34 9.21 L10.54 10.25 L8.64 10.95 L6.76 11.39 L4.99 11.73 L3.33 12.07 L1.69 12.5 L0 12.97 L-1.81 13.41 L-3.76 13.65 L-5.77 13.55 L-7.73 13.02 L-9.49 12.03 L-10.96 10.66 L-12.08 9.02 L-12.87 7.23 L-13.42 5.41 L-13.8 3.6 L-14.09 1.8 L-14.31 0 L-14.41 -1.84 L-14.3 -3.73 L-13.9 -5.6 L-13.16 -7.39 L-12.06 -9 L-10.65 -10.36 L-9.02 -11.44 L-7.27 -12.25 L-5.47 -12.85 L-3.66 -13.28 L-1.84 -13.58 L-0 -13.75 L1.86 -13.75 L3.72 -13.51 L5.53 -12.98 L7.22 -12.16 L8.74 -11.07 L10.05 -9.78 L11.18 -8.35 L12.18 -6.84 L13.09 -5.27 L13.95 -3.63 L14.72 -1.88 L15.32 -0Z" fill="#e04090" opacity="0.5" filter="url(#pspeck)"/><circle cx="-9" cy="-7" r="2.2" fill="#d8e020"/><circle cx="-4" cy="-11" r="1.6" fill="#e0e030"/><circle cx="4" cy="-11.5" r="1.4" fill="#d0d828"/><circle cx="-12" cy="-4" r="1.3" fill="#b8e030"/><circle cx="-6" cy="-12" r="1.4" fill="#40c040"/><circle cx="-9" cy="1" r="1" fill="#70e0e8"/><circle cx="8" cy="7" r="1.2" fill="#f0f0ff"/><circle cx="10" cy="3" r="0.9" fill="#f0f0ff"/></g><g transform="translate(422,35.5) rotate(0)"><path d="M8.43 0 L8.38 0.94 L8.27 1.88 L8.08 2.84 L7.8 3.82 L7.39 4.81 L6.8 5.77 L6.02 6.65 L5.04 7.4 L3.88 7.94 L2.6 8.23 L1.28 8.27 L0 8.09 L-1.2 7.73 L-2.3 7.26 L-3.3 6.76 L-4.26 6.26 L-5.21 5.76 L-6.17 5.23 L-7.12 4.63 L-8.01 3.92 L-8.78 3.08 L-9.32 2.12 L-9.6 1.07 L-9.57 0 L-9.28 -1.04 L-8.78 -1.99 L-8.15 -2.86 L-7.46 -3.65 L-6.75 -4.39 L-6.03 -5.12 L-5.29 -5.84 L-4.46 -6.56 L-3.53 -7.23 L-2.46 -7.8 L-1.28 -8.21 L-0 -8.42 L1.3 -8.4 L2.58 -8.16 L3.77 -7.71 L4.84 -7.1 L5.76 -6.37 L6.54 -5.55 L7.18 -4.67 L7.67 -3.76 L8.03 -2.82 L8.27 -1.88 L8.4 -0.94 L8.43 -0Z" fill="url(#cg)"/><path d="M8.43 0 L8.38 0.94 L8.27 1.88 L8.08 2.84 L7.8 3.82 L7.39 4.81 L6.8 5.77 L6.02 6.65 L5.04 7.4 L3.88 7.94 L2.6 8.23 L1.28 8.27 L0 8.09 L-1.2 7.73 L-2.3 7.26 L-3.3 6.76 L-4.26 6.26 L-5.21 5.76 L-6.17 5.23 L-7.12 4.63 L-8.01 3.92 L-8.78 3.08 L-9.32 2.12 L-9.6 1.07 L-9.57 0 L-9.28 -1.04 L-8.78 -1.99 L-8.15 -2.86 L-7.46 -3.65 L-6.75 -4.39 L-6.03 -5.12 L-5.29 -5.84 L-4.46 -6.56 L-3.53 -7.23 L-2.46 -7.8 L-1.28 -8.21 L-0 -8.42 L1.3 -8.4 L2.58 -8.16 L3.77 -7.71 L4.84 -7.1 L5.76 -6.37 L6.54 -5.55 L7.18 -4.67 L7.67 -3.76 L8.03 -2.82 L8.27 -1.88 L8.4 -0.94 L8.43 -0Z" fill="#7080e8" opacity="0.15" filter="url(#speck)"/><circle cx="2" cy="-4" r="0.9" fill="#50d8e0"/><circle cx="4.5" cy="-2" r="0.8" fill="#50d8e0"/><circle cx="-2" cy="5" r="0.7" fill="#50d8e0"/></g><g transform="translate(379,41) rotate(-20)"><path d="M7.35 2.22 L7.05 3.13 L6.71 4.1 L6.24 5.1 L5.56 6.06 L4.61 6.87 L3.43 7.44 L2.09 7.68 L0.73 7.61 L-0.56 7.28 L-1.71 6.79 L-2.74 6.24 L-3.69 5.7 L-4.61 5.19 L-5.55 4.67 L-6.48 4.09 L-7.33 3.38 L-8.02 2.54 L-8.48 1.59 L-8.67 0.57 L-8.62 -0.45 L-8.37 -1.45 L-7.98 -2.41" stroke="#dc1e2a" stroke-width="1.15" fill="none" stroke-linecap="round" filter="url(#rough)"/><path d="M7.64 5.31 L6.99 6.47 L6.07 7.53 L4.84 8.37 L3.37 8.87 L1.79 9 L0.23 8.78 L-1.21 8.3 L-2.49 7.7 L-3.64 7.06 L-4.72 6.45 L-5.8 5.86 L-6.89 5.24 L-7.95 4.51 L-8.89 3.63 L-9.61 2.61 L-10.04 1.47" stroke="#dc1e2a" stroke-width="0.8" fill="none" stroke-linecap="round" filter="url(#rough)"/><path d="M7.78 0 L7.52 0.82 L7.23 1.61 L6.96 2.39 L6.7 3.21 L6.39 4.06 L5.96 4.94 L5.36 5.79 L4.54 6.52 L3.52 7.06 L2.37 7.34 L1.17 7.36 L0 7.15 L-1.08 6.77 L-2.04 6.31 L-2.91 5.83 L-3.73 5.36 L-4.55 4.92 L-5.38 4.46 L-6.19 3.94 L-6.95 3.33 L-7.59 2.61 L-8.04 1.79 L-8.29 0.9 L-8.32 0 L-8.18 -0.89 L-7.9 -1.76 L-7.53 -2.59 L-7.08 -3.39 L-6.55 -4.16 L-5.91 -4.9 L-5.15 -5.57 L-4.27 -6.13 L-3.27 -6.54 L-2.19 -6.79 L-1.09 -6.86 L-0 -6.79 L1.05 -6.61 L2.06 -6.37 L3.04 -6.08 L4.01 -5.75 L4.96 -5.36 L5.87 -4.86 L6.68 -4.25 L7.33 -3.51 L7.77 -2.67 L7.97 -1.77 L7.96 -0.87 L7.78 -0Z" fill="url(#cgr)"/><path d="M7.78 0 L7.52 0.82 L7.23 1.61 L6.96 2.39 L6.7 3.21 L6.39 4.06 L5.96 4.94 L5.36 5.79 L4.54 6.52 L3.52 7.06 L2.37 7.34 L1.17 7.36 L0 7.15 L-1.08 6.77 L-2.04 6.31 L-2.91 5.83 L-3.73 5.36 L-4.55 4.92 L-5.38 4.46 L-6.19 3.94 L-6.95 3.33 L-7.59 2.61 L-8.04 1.79 L-8.29 0.9 L-8.32 0 L-8.18 -0.89 L-7.9 -1.76 L-7.53 -2.59 L-7.08 -3.39 L-6.55 -4.16 L-5.91 -4.9 L-5.15 -5.57 L-4.27 -6.13 L-3.27 -6.54 L-2.19 -6.79 L-1.09 -6.86 L-0 -6.79 L1.05 -6.61 L2.06 -6.37 L3.04 -6.08 L4.01 -5.75 L4.96 -5.36 L5.87 -4.86 L6.68 -4.25 L7.33 -3.51 L7.77 -2.67 L7.97 -1.77 L7.96 -0.87 L7.78 -0Z" fill="#7080e8" opacity="0.15" filter="url(#speck)"/><circle cx="2" cy="3" r="0.8" fill="#50d8e0"/></g><g transform="translate(399.5,57.5) rotate(0)"><path d="M0 8.94 L-1.36 8.84 L-2.7 8.56 L-3.97 8.12 L-5.15 7.51 L-6.22 6.75 L-7.12 5.84 L-7.82 4.81 L-8.32 3.7 L-8.61 2.55 L-8.74 1.4 L-8.75 0.28 L-8.69 -0.83 L-8.57 -1.95 L-8.38 -3.08 L-8.07 -4.24 L-7.58 -5.4 L-6.87 -6.48 L-5.92 -7.42 L-4.75 -8.14 L-3.44 -8.6" stroke="#dc1e2a" stroke-width="1.48" fill="none" stroke-linecap="round" filter="url(#rough)"/><path d="M-3.37 -8.43 L-2.01 -8.61 L-0.66 -8.58 L0.64 -8.37 L1.88 -8.06 L3.06 -7.67 L4.22 -7.22 L5.34 -6.69 L6.41 -6.05 L7.38 -5.25 L8.18 -4.3" stroke="#dc1e2a" stroke-width="0.82" fill="none" stroke-linecap="round" filter="url(#rough)"/><path d="M8.16 -4.29 L8.73 -3.21 L9.06 -2.06 L9.15 -0.88 L9.02 0.29 L8.75 1.41 L8.36 2.48 L7.89 3.51 L7.34 4.51 L6.68 5.48 L5.88 6.39 L4.94 7.2 L3.84 7.86 L2.63 8.35 L1.33 8.64 L0 8.73" stroke="#dc1e2a" stroke-width="0.74" fill="none" stroke-linecap="round" filter="url(#rough)"/><path d="M-5.62 8.87 L-6.88 8.03 L-7.98 7.02 L-8.85 5.86 L-9.48 4.59 L-9.88 3.28 L-10.07 1.95 L-10.11 0.64 L-10.06 -0.64 L-9.93 -1.92 L-9.73 -3.23" stroke="#dc1e2a" stroke-width="0.8" fill="none" stroke-linecap="round" filter="url(#rough)"/><path d="M8.85 0 L8.63 1.04 L8.31 2.03 L7.91 2.99 L7.45 3.92 L6.9 4.82 L6.24 5.69 L5.47 6.5 L4.56 7.2 L3.54 7.78 L2.41 8.2 L1.22 8.44 L0 8.52 L-1.22 8.44 L-2.41 8.2 L-3.56 7.83 L-4.64 7.32 L-5.62 6.68 L-6.48 5.91 L-7.19 5.02 L-7.72 4.06 L-8.07 3.05 L-8.27 2.02 L-8.35 1 L-8.33 0 L-8.26 -0.99 L-8.15 -1.99 L-7.97 -3.01 L-7.69 -4.04 L-7.26 -5.07 L-6.64 -6.05 L-5.83 -6.92 L-4.82 -7.61 L-3.68 -8.09 L-2.45 -8.34 L-1.21 -8.39 L-0 -8.27 L1.16 -8.02 L2.27 -7.71 L3.34 -7.34 L4.38 -6.91 L5.4 -6.41 L6.36 -5.8 L7.23 -5.06 L7.96 -4.19 L8.5 -3.21 L8.82 -2.15 L8.93 -1.07 L8.85 -0Z" fill="url(#cgr)"/><path d="M8.85 0 L8.63 1.04 L8.31 2.03 L7.91 2.99 L7.45 3.92 L6.9 4.82 L6.24 5.69 L5.47 6.5 L4.56 7.2 L3.54 7.78 L2.41 8.2 L1.22 8.44 L0 8.52 L-1.22 8.44 L-2.41 8.2 L-3.56 7.83 L-4.64 7.32 L-5.62 6.68 L-6.48 5.91 L-7.19 5.02 L-7.72 4.06 L-8.07 3.05 L-8.27 2.02 L-8.35 1 L-8.33 0 L-8.26 -0.99 L-8.15 -1.99 L-7.97 -3.01 L-7.69 -4.04 L-7.26 -5.07 L-6.64 -6.05 L-5.83 -6.92 L-4.82 -7.61 L-3.68 -8.09 L-2.45 -8.34 L-1.21 -8.39 L-0 -8.27 L1.16 -8.02 L2.27 -7.71 L3.34 -7.34 L4.38 -6.91 L5.4 -6.41 L6.36 -5.8 L7.23 -5.06 L7.96 -4.19 L8.5 -3.21 L8.82 -2.15 L8.93 -1.07 L8.85 -0Z" fill="#7080e8" opacity="0.15" filter="url(#speck)"/><path d="M8.85 0 L8.63 1.04 L8.31 2.03 L7.91 2.99 L7.45 3.92 L6.9 4.82 L6.24 5.69 L5.47 6.5 L4.56 7.2 L3.54 7.78 L2.41 8.2 L1.22 8.44 L0 8.52 L-1.22 8.44 L-2.41 8.2 L-3.56 7.83 L-4.64 7.32 L-5.62 6.68 L-6.48 5.91 L-7.19 5.02 L-7.72 4.06 L-8.07 3.05 L-8.27 2.02 L-8.35 1 L-8.33 0 L-8.26 -0.99 L-8.15 -1.99 L-7.97 -3.01 L-7.69 -4.04 L-7.26 -5.07 L-6.64 -6.05 L-5.83 -6.92 L-4.82 -7.61 L-3.68 -8.09 L-2.45 -8.34 L-1.21 -8.39 L-0 -8.27 L1.16 -8.02 L2.27 -7.71 L3.34 -7.34 L4.38 -6.91 L5.4 -6.41 L6.36 -5.8 L7.23 -5.06 L7.96 -4.19 L8.5 -3.21 L8.82 -2.15 L8.93 -1.07 L8.85 -0Z" fill="#e04090" opacity="0.35" filter="url(#pspeck)"/><circle cx="-1" cy="3" r="1.3" fill="#50d8e0"/><circle cx="3" cy="5" r="0.7" fill="#4fd04a"/></g><g transform="translate(363,64.5) rotate(0)"><path d="M10.51 0 L10.77 1.08 L10.73 2.19 L10.37 3.27 L9.69 4.25 L8.72 5.09 L7.56 5.75 L6.28 6.22 L4.97 6.55 L3.68 6.76 L2.43 6.9 L1.21 7 L0 7.06 L-1.22 7.06 L-2.46 6.98 L-3.7 6.78 L-4.89 6.44 L-6.01 5.95 L-7 5.32 L-7.84 4.57 L-8.54 3.75 L-9.09 2.86 L-9.52 1.94 L-9.83 0.98 L-10.02 0 L-10.07 -1.01 L-9.95 -2.03 L-9.64 -3.03 L-9.11 -4 L-8.39 -4.89 L-7.47 -5.68 L-6.4 -6.34 L-5.22 -6.87 L-3.95 -7.25 L-2.64 -7.5 L-1.32 -7.6 L-0 -7.56 L1.28 -7.38 L2.49 -7.07 L3.62 -6.65 L4.65 -6.12 L5.58 -5.53 L6.42 -4.88 L7.21 -4.2 L7.97 -3.5 L8.7 -2.74 L9.4 -1.91 L10.03 -1 L10.51 -0Z" fill="url(#cg)"/><path d="M10.51 0 L10.77 1.08 L10.73 2.19 L10.37 3.27 L9.69 4.25 L8.72 5.09 L7.56 5.75 L6.28 6.22 L4.97 6.55 L3.68 6.76 L2.43 6.9 L1.21 7 L0 7.06 L-1.22 7.06 L-2.46 6.98 L-3.7 6.78 L-4.89 6.44 L-6.01 5.95 L-7 5.32 L-7.84 4.57 L-8.54 3.75 L-9.09 2.86 L-9.52 1.94 L-9.83 0.98 L-10.02 0 L-10.07 -1.01 L-9.95 -2.03 L-9.64 -3.03 L-9.11 -4 L-8.39 -4.89 L-7.47 -5.68 L-6.4 -6.34 L-5.22 -6.87 L-3.95 -7.25 L-2.64 -7.5 L-1.32 -7.6 L-0 -7.56 L1.28 -7.38 L2.49 -7.07 L3.62 -6.65 L4.65 -6.12 L5.58 -5.53 L6.42 -4.88 L7.21 -4.2 L7.97 -3.5 L8.7 -2.74 L9.4 -1.91 L10.03 -1 L10.51 -0Z" fill="#7080e8" opacity="0.15" filter="url(#speck)"/><circle cx="1" cy="-4" r="1.4" fill="#50d8e0"/><circle cx="4" cy="-2" r="1" fill="#50d8e0"/><path d="M2.2 5.5 Q0 4 -2.2 5.5 L-2.2 8.5 L2.2 8.5Z" fill="#05090b"/><path d="M-5 8.2 L-1 9.5 L3 9.2 L6 8" stroke="#30d030" stroke-width="1" fill="none" stroke-dasharray="1.1 1"/></g><g transform="translate(351,91) rotate(0)"><path d="M7.44 3.5 L6.88 4.39 L6.13 5.2 L5.2 5.88 L4.11 6.4 L2.93 6.73 L1.72 6.91 L0.5 6.98 L-0.71 6.98 L-1.94 6.93 L-3.2 6.81 L-4.49 6.58 L-5.75 6.18 L-6.92 5.58 L-7.88 4.78 L-8.57 3.8 L-8.95 2.72 L-9.05 1.62 L-8.93 0.54 L-8.66 -0.47 L-8.32 -1.43 L-7.93 -2.35" stroke="#dc1e2a" stroke-width="1.23" fill="none" stroke-linecap="round" filter="url(#rough)"/><path d="M-7.78 -2.3 L-7.31 -3.21 L-6.74 -4.09 L-6.02 -4.9 L-5.12 -5.6 L-4.08 -6.16 L-2.93 -6.55" stroke="#dc1e2a" stroke-width="0.66" fill="none" stroke-linecap="round" filter="url(#rough)"/><path d="M5.05 7.12 L3.72 7.57 L2.33 7.82 L0.93 7.93 L-0.46 7.94 L-1.87 7.9 L-3.31 7.78 L-4.78 7.55 L-6.25 7.14 L-7.62 6.5 L-8.78 5.62 L-9.63 4.53" stroke="#dc1e2a" stroke-width="0.8" fill="none" stroke-linecap="round" filter="url(#rough)"/><path d="M8.32 0 L8.1 0.87 L7.83 1.71 L7.52 2.54 L7.14 3.35 L6.64 4.15 L5.99 4.88 L5.19 5.51 L4.26 6.01 L3.23 6.36 L2.16 6.57 L1.08 6.67 L0 6.7 L-1.08 6.68 L-2.18 6.62 L-3.31 6.5 L-4.45 6.27 L-5.57 5.91 L-6.6 5.37 L-7.47 4.67 L-8.12 3.82 L-8.52 2.87 L-8.67 1.89 L-8.63 0.92 L-8.44 0 L-8.16 -0.87 L-7.84 -1.71 L-7.47 -2.52 L-7.05 -3.31 L-6.53 -4.08 L-5.88 -4.79 L-5.1 -5.42 L-4.2 -5.93 L-3.21 -6.3 L-2.16 -6.56 L-1.09 -6.71 L-0 -6.78 L1.1 -6.79 L2.22 -6.74 L3.36 -6.61 L4.51 -6.35 L5.61 -5.95 L6.61 -5.38 L7.43 -4.64 L8.03 -3.78 L8.39 -2.83 L8.53 -1.86 L8.48 -0.91 L8.32 -0Z" fill="url(#cgr)"/><path d="M8.32 0 L8.1 0.87 L7.83 1.71 L7.52 2.54 L7.14 3.35 L6.64 4.15 L5.99 4.88 L5.19 5.51 L4.26 6.01 L3.23 6.36 L2.16 6.57 L1.08 6.67 L0 6.7 L-1.08 6.68 L-2.18 6.62 L-3.31 6.5 L-4.45 6.27 L-5.57 5.91 L-6.6 5.37 L-7.47 4.67 L-8.12 3.82 L-8.52 2.87 L-8.67 1.89 L-8.63 0.92 L-8.44 0 L-8.16 -0.87 L-7.84 -1.71 L-7.47 -2.52 L-7.05 -3.31 L-6.53 -4.08 L-5.88 -4.79 L-5.1 -5.42 L-4.2 -5.93 L-3.21 -6.3 L-2.16 -6.56 L-1.09 -6.71 L-0 -6.78 L1.1 -6.79 L2.22 -6.74 L3.36 -6.61 L4.51 -6.35 L5.61 -5.95 L6.61 -5.38 L7.43 -4.64 L8.03 -3.78 L8.39 -2.83 L8.53 -1.86 L8.48 -0.91 L8.32 -0Z" fill="#7080e8" opacity="0.15" filter="url(#speck)"/><circle cx="3" cy="-1" r="0.9" fill="#50d8e0"/><circle cx="1" cy="1" r="0.7" fill="#50d8e0"/></g><g transform="translate(384,110) rotate(0)"><path d="M-7.62 1.01 L-7.93 0.17 L-8.09 -0.71 L-8.05 -1.62 L-7.76 -2.51 L-7.22 -3.34 L-6.45 -4.06" stroke="#dc1e2a" stroke-width="0.66" fill="none" stroke-linecap="round" filter="url(#rough)"/><path d="M7.33 0 L7.43 0.73 L7.43 1.49 L7.31 2.27 L7.01 3.04 L6.54 3.77 L5.9 4.42 L5.11 4.99 L4.2 5.46 L3.21 5.82 L2.17 6.07 L1.09 6.23 L0 6.27 L-1.09 6.2 L-2.14 6 L-3.13 5.67 L-4.02 5.22 L-4.79 4.69 L-5.45 4.08 L-5.99 3.45 L-6.45 2.79 L-6.86 2.13 L-7.22 1.45 L-7.54 0.74 L-7.78 0 L-7.9 -0.78 L-7.86 -1.58 L-7.62 -2.37 L-7.17 -3.1 L-6.54 -3.76 L-5.76 -4.32 L-4.9 -4.79 L-3.98 -5.17 L-3.03 -5.48 L-2.06 -5.75 L-1.05 -5.98 L-0 -6.14 L1.09 -6.2 L2.19 -6.13 L3.26 -5.91 L4.25 -5.51 L5.09 -4.97 L5.76 -4.32 L6.26 -3.6 L6.61 -2.86 L6.85 -2.13 L7.04 -1.41 L7.2 -0.71 L7.33 -0Z" fill="url(#cgr)"/><path d="M7.33 0 L7.43 0.73 L7.43 1.49 L7.31 2.27 L7.01 3.04 L6.54 3.77 L5.9 4.42 L5.11 4.99 L4.2 5.46 L3.21 5.82 L2.17 6.07 L1.09 6.23 L0 6.27 L-1.09 6.2 L-2.14 6 L-3.13 5.67 L-4.02 5.22 L-4.79 4.69 L-5.45 4.08 L-5.99 3.45 L-6.45 2.79 L-6.86 2.13 L-7.22 1.45 L-7.54 0.74 L-7.78 0 L-7.9 -0.78 L-7.86 -1.58 L-7.62 -2.37 L-7.17 -3.1 L-6.54 -3.76 L-5.76 -4.32 L-4.9 -4.79 L-3.98 -5.17 L-3.03 -5.48 L-2.06 -5.75 L-1.05 -5.98 L-0 -6.14 L1.09 -6.2 L2.19 -6.13 L3.26 -5.91 L4.25 -5.51 L5.09 -4.97 L5.76 -4.32 L6.26 -3.6 L6.61 -2.86 L6.85 -2.13 L7.04 -1.41 L7.2 -0.71 L7.33 -0Z" fill="#7080e8" opacity="0.15" filter="url(#speck)"/><path d="M-4 -6.3 L4 -6.3" stroke="#30d030" stroke-width="1.1" stroke-dasharray="1.2 1.2"/></g><circle cx="400.5" cy="112" r="1.5" fill="#e0202a"/><g transform="translate(387,132.3) rotate(0)"><path d="M3.73 6.46 L2.81 7.02 L1.8 7.4 L0.72 7.58 L-0.36 7.57 L-1.42 7.38 L-2.44 7.04 L-3.39 6.58 L-4.28 6.02 L-5.11 5.36 L-5.85 4.6 L-6.5 3.75" stroke="#dc1e2a" stroke-width="0.82" fill="none" stroke-linecap="round" filter="url(#rough)"/><path d="M7.04 0 L6.81 0.9 L6.52 1.75 L6.2 2.57 L5.83 3.37 L5.41 4.15 L4.91 4.91 L4.31 5.62 L3.61 6.24 L2.8 6.75 L1.9 7.11 L0.96 7.3 L0 7.34 L-0.95 7.23 L-1.87 6.99 L-2.75 6.63 L-3.57 6.19 L-4.35 5.67 L-5.07 5.07 L-5.72 4.39 L-6.29 3.63 L-6.76 2.8 L-7.12 1.91 L-7.35 0.97 L-7.44 0 L-7.37 -0.97 L-7.15 -1.92 L-6.79 -2.81 L-6.29 -3.63 L-5.68 -4.36 L-4.98 -4.98 L-4.21 -5.49 L-3.41 -5.9 L-2.58 -6.22 L-1.74 -6.48 L-0.88 -6.67 L-0 -6.81 L0.91 -6.9 L1.85 -6.9 L2.81 -6.79 L3.77 -6.54 L4.7 -6.12 L5.53 -5.53 L6.22 -4.78 L6.74 -3.89 L7.07 -2.93 L7.21 -1.93 L7.19 -0.95 L7.04 -0Z" fill="url(#cgr)"/><path d="M7.04 0 L6.81 0.9 L6.52 1.75 L6.2 2.57 L5.83 3.37 L5.41 4.15 L4.91 4.91 L4.31 5.62 L3.61 6.24 L2.8 6.75 L1.9 7.11 L0.96 7.3 L0 7.34 L-0.95 7.23 L-1.87 6.99 L-2.75 6.63 L-3.57 6.19 L-4.35 5.67 L-5.07 5.07 L-5.72 4.39 L-6.29 3.63 L-6.76 2.8 L-7.12 1.91 L-7.35 0.97 L-7.44 0 L-7.37 -0.97 L-7.15 -1.92 L-6.79 -2.81 L-6.29 -3.63 L-5.68 -4.36 L-4.98 -4.98 L-4.21 -5.49 L-3.41 -5.9 L-2.58 -6.22 L-1.74 -6.48 L-0.88 -6.67 L-0 -6.81 L0.91 -6.9 L1.85 -6.9 L2.81 -6.79 L3.77 -6.54 L4.7 -6.12 L5.53 -5.53 L6.22 -4.78 L6.74 -3.89 L7.07 -2.93 L7.21 -1.93 L7.19 -0.95 L7.04 -0Z" fill="#7080e8" opacity="0.15" filter="url(#speck)"/><circle cx="4" cy="-3" r="1.3" fill="#50d8e0"/><circle cx="5.5" cy="-1" r="0.8" fill="#4fd04a"/></g><path d="M407.4 64.2 L415.2 64.2 L413.03 66.37 L422.22 75.56 L418.76 79.02 L409.57 69.83 L407.4 72Z" fill="#fff"/><rect x="326" y="106.3" width="36.5" height="34.7" fill="#05090b" stroke="#c8c8c8" stroke-width="0.9"/><g transform="translate(345,123) rotate(0)"><path d="M6.65 10.7 L5.1 11.72 L3.38 12.6 L1.5 13.26 L-0.51 13.62 L-2.59 13.63 L-4.66 13.3 L-6.65 12.66 L-8.53 11.74 L-10.25 10.57 L-11.78 9.18 L-13.07 7.59 L-14.05 5.81 L-14.66 3.9 L-14.87 1.94 L-14.67 0 L-14.14 -1.85 L-13.36 -3.56 L-12.43 -5.14 L-11.41 -6.62 L-10.33 -8.05" stroke="#dc1e2a" stroke-width="1.8" fill="none" stroke-linecap="round" filter="url(#rough)"/><path d="M-10.16 -7.91 L-8.89 -9.41 L-7.43 -10.83 L-5.72 -12.07 L-3.75 -13 L-1.59 -13.5 L0.64 -13.53 L2.81 -13.13 L4.86 -12.41" stroke="#dc1e2a" stroke-width="0.98" fill="none" stroke-linecap="round" filter="url(#rough)"/><path d="M2.81 14.8 L0.58 15.39 L-1.77 15.6 L-4.14 15.42 L-6.47 14.86 L-8.68 13.96 L-10.74 12.77 L-12.61 11.31 L-14.23 9.6 L-15.53 7.67 L-16.45 5.56 L-16.92 3.34 L-16.92 1.1 L-16.49 -1.07 L-15.72 -3.1 L-14.73 -4.98" stroke="#dc1e2a" stroke-width="1" fill="none" stroke-linecap="round" filter="url(#rough)"/><path d="M-9.41 15.14 L-11.8 13.74 L-13.94 12.01 L-15.76 9.98 L-17.17 7.68 L-18.08 5.18 L-18.4 2.58 L-18.16 0" stroke="#dc1e2a" stroke-width="0.8" fill="none" stroke-linecap="round" filter="url(#rough)"/><path d="M14.97 0 L14.52 1.77 L13.71 3.41 L12.65 4.87 L11.45 6.14 L10.21 7.27 L8.96 8.32 L7.71 9.32 L6.4 10.3 L5.01 11.22 L3.47 12.04 L1.8 12.67 L0 13.05 L-1.87 13.16 L-3.74 12.96 L-5.57 12.49 L-7.32 11.78 L-8.95 10.84 L-10.45 9.7 L-11.76 8.38 L-12.85 6.89 L-13.67 5.26 L-14.17 3.52 L-14.31 1.75 L-14.13 0 L-13.65 -1.67 L-12.96 -3.23 L-12.14 -4.67 L-11.24 -6.02 L-10.28 -7.33 L-9.26 -8.6 L-8.12 -9.83 L-6.83 -10.98 L-5.34 -11.97 L-3.67 -12.73 L-1.87 -13.18 L-0 -13.29 L1.85 -13.07 L3.63 -12.59 L5.31 -11.91 L6.9 -11.1 L8.42 -10.19 L9.9 -9.19 L11.32 -8.07 L12.64 -6.78 L13.76 -5.29 L14.57 -3.63 L14.99 -1.83 L14.97 -0Z" fill="url(#cgr)"/><path d="M14.97 0 L14.52 1.77 L13.71 3.41 L12.65 4.87 L11.45 6.14 L10.21 7.27 L8.96 8.32 L7.71 9.32 L6.4 10.3 L5.01 11.22 L3.47 12.04 L1.8 12.67 L0 13.05 L-1.87 13.16 L-3.74 12.96 L-5.57 12.49 L-7.32 11.78 L-8.95 10.84 L-10.45 9.7 L-11.76 8.38 L-12.85 6.89 L-13.67 5.26 L-14.17 3.52 L-14.31 1.75 L-14.13 0 L-13.65 -1.67 L-12.96 -3.23 L-12.14 -4.67 L-11.24 -6.02 L-10.28 -7.33 L-9.26 -8.6 L-8.12 -9.83 L-6.83 -10.98 L-5.34 -11.97 L-3.67 -12.73 L-1.87 -13.18 L-0 -13.29 L1.85 -13.07 L3.63 -12.59 L5.31 -11.91 L6.9 -11.1 L8.42 -10.19 L9.9 -9.19 L11.32 -8.07 L12.64 -6.78 L13.76 -5.29 L14.57 -3.63 L14.99 -1.83 L14.97 -0Z" fill="#7080e8" opacity="0.15" filter="url(#speck)"/><path d="M14.97 0 L14.52 1.77 L13.71 3.41 L12.65 4.87 L11.45 6.14 L10.21 7.27 L8.96 8.32 L7.71 9.32 L6.4 10.3 L5.01 11.22 L3.47 12.04 L1.8 12.67 L0 13.05 L-1.87 13.16 L-3.74 12.96 L-5.57 12.49 L-7.32 11.78 L-8.95 10.84 L-10.45 9.7 L-11.76 8.38 L-12.85 6.89 L-13.67 5.26 L-14.17 3.52 L-14.31 1.75 L-14.13 0 L-13.65 -1.67 L-12.96 -3.23 L-12.14 -4.67 L-11.24 -6.02 L-10.28 -7.33 L-9.26 -8.6 L-8.12 -9.83 L-6.83 -10.98 L-5.34 -11.97 L-3.67 -12.73 L-1.87 -13.18 L-0 -13.29 L1.85 -13.07 L3.63 -12.59 L5.31 -11.91 L6.9 -11.1 L8.42 -10.19 L9.9 -9.19 L11.32 -8.07 L12.64 -6.78 L13.76 -5.29 L14.57 -3.63 L14.99 -1.83 L14.97 -0Z" fill="#e04090" opacity="0.3" filter="url(#pspeck)"/><circle cx="4" cy="3" r="1.4" fill="#50d8e0"/><circle cx="-2" cy="5" r="1" fill="#50d8e0"/><circle cx="-4" cy="10.5" r="0.9" fill="#4fd04a"/><circle cx="0" cy="11" r="0.8" fill="#4fd04a"/></g><line x1="104" y1="176.9" x2="104" y2="260.1" stroke="#232323" stroke-width="1.3"/><line x1="103.4" y1="259.5" x2="184.5" y2="259.5" stroke="#232323" stroke-width="1.3"/><path d="M100.8 259.5H104M102 255.4H104M102 251.29H104M102 247.19H104M102 243.08H104M100.8 238.97H104M102 234.87H104M102 230.76H104M102 226.66H104M102 222.56H104M100.8 218.45H104M102 214.34H104M102 210.24H104M102 206.13H104M102 202.03H104M100.8 197.93H104M102 193.82H104M102 189.72H104M102 185.61H104M102 181.51H104M100.8 177.4H104" stroke="#232323" stroke-width="0.9" fill="none"/><text x="98.3" y="262.4" text-anchor="end" font-size="8.2" fill="#2b2b2b" textLength="4.15" lengthAdjust="spacingAndGlyphs">0</text><text x="98.3" y="241.88" text-anchor="end" font-size="8.2" fill="#2b2b2b" textLength="16.6" lengthAdjust="spacingAndGlyphs">1000</text><text x="98.3" y="221.35" text-anchor="end" font-size="8.2" fill="#2b2b2b" textLength="16.6" lengthAdjust="spacingAndGlyphs">2000</text><text x="98.3" y="200.83" text-anchor="end" font-size="8.2" fill="#2b2b2b" textLength="16.6" lengthAdjust="spacingAndGlyphs">3000</text><text x="98.3" y="180.3" text-anchor="end" font-size="8.2" fill="#2b2b2b" textLength="16.6" lengthAdjust="spacingAndGlyphs">4000</text><rect x="110" y="254.6" width="12.4" height="4.9" fill="#3db549"/><path d="M116.2 254.6V253M114.6 253H117.8" stroke="#232323" stroke-width="0.9" fill="none"/><line x1="116.2" y1="259.5" x2="116.2" y2="262.5" stroke="#232323" stroke-width="0.9"/><rect x="128.7" y="202.6" width="12.3" height="56.9" fill="#f7931e"/><path d="M134.85 202.6V201M133.25 201H136.45" stroke="#232323" stroke-width="0.9" fill="none"/><line x1="134.85" y1="259.5" x2="134.85" y2="262.5" stroke="#232323" stroke-width="0.9"/><rect x="147.2" y="207.5" width="12.2" height="52" fill="#0f5189"/><path d="M153.3 207.5V205M151.7 205H154.9" stroke="#232323" stroke-width="0.9" fill="none"/><line x1="153.3" y1="259.5" x2="153.3" y2="262.5" stroke="#232323" stroke-width="0.9"/><rect x="165.8" y="229.2" width="12.2" height="30.3" fill="#c8202f"/><path d="M171.9 229.2V225.5M170.3 225.5H173.5" stroke="#232323" stroke-width="0.9" fill="none"/><line x1="171.9" y1="259.5" x2="171.9" y2="262.5" stroke="#232323" stroke-width="0.9"/><path d="M116.1 252.2V194.4H133.6V198" stroke="#232323" stroke-width="1" fill="none"/><text x="124.6" y="194.4" text-anchor="middle" font-size="8.4" font-weight="bold" letter-spacing="0.2" fill="#222">****</text><path d="M136.3 197.5V194.6H153.2V202.3" stroke="#232323" stroke-width="1" fill="none"/><text x="145" y="191.7" text-anchor="middle" font-size="7.6" fill="#2b2b2b">ns</text><path d="M136.1 187.9V181.8H171.7V222.2" stroke="#232323" stroke-width="1" fill="none"/><text x="154" y="181.4" text-anchor="middle" font-size="8.4" font-weight="bold" letter-spacing="0.2" fill="#222">****</text><text transform="translate(72.9,218.3) rotate(-90)" text-anchor="middle" font-size="8.2" fill="#2b2b2b" textLength="46.4" lengthAdjust="spacingAndGlyphs">TNFα (pg/mL)</text><text transform="translate(118.7,265.8) rotate(-90)" text-anchor="end" font-size="9.1" fill="#2b2b2b" textLength="26.2" lengthAdjust="spacingAndGlyphs">Control</text><text transform="translate(137.35,265.8) rotate(-90)" text-anchor="end" font-size="9.1" fill="#2b2b2b" textLength="26.2" lengthAdjust="spacingAndGlyphs">Control</text><text transform="translate(155.8,265.8) rotate(-90)" text-anchor="end" font-size="9.1" fill="#2b2b2b" textLength="29.6" lengthAdjust="spacingAndGlyphs">Con EVs</text><text transform="translate(174.4,265.8) rotate(-90)" text-anchor="end" font-size="9.1" fill="#2b2b2b" textLength="32" lengthAdjust="spacingAndGlyphs">FVIIa EVs</text><line x1="128.2" y1="301.2" x2="179.6" y2="301.2" stroke="#232323" stroke-width="1"/><text x="153.6" y="309.6" text-anchor="middle" font-size="8.1" fill="#2b2b2b" textLength="13.2" lengthAdjust="spacingAndGlyphs">LPS</text><text x="65.8" y="166.7" font-size="10.6" font-weight="bold" fill="#111">B</text><line x1="247.4" y1="173.9" x2="247.4" y2="259.8" stroke="#232323" stroke-width="1.3"/><line x1="246.8" y1="259.2" x2="327.7" y2="259.2" stroke="#232323" stroke-width="1.3"/><path d="M244.2 259.2H247.4M245.4 255.81H247.4M245.4 252.42H247.4M245.4 249.02H247.4M245.4 245.63H247.4M244.2 242.24H247.4M245.4 238.85H247.4M245.4 235.46H247.4M245.4 232.06H247.4M245.4 228.67H247.4M244.2 225.28H247.4M245.4 221.89H247.4M245.4 218.5H247.4M245.4 215.1H247.4M245.4 211.71H247.4M244.2 208.32H247.4M245.4 204.93H247.4M245.4 201.54H247.4M245.4 198.14H247.4M245.4 194.75H247.4M244.2 191.36H247.4M245.4 187.97H247.4M245.4 184.58H247.4M245.4 181.18H247.4M245.4 177.79H247.4M244.2 174.4H247.4" stroke="#232323" stroke-width="0.9" fill="none"/><text x="241.3" y="262.1" text-anchor="end" font-size="8.2" fill="#2b2b2b" textLength="4.15" lengthAdjust="spacingAndGlyphs">0</text><text x="241.3" y="245.14" text-anchor="end" font-size="8.2" fill="#2b2b2b" textLength="8.3" lengthAdjust="spacingAndGlyphs">50</text><text x="241.3" y="228.18" text-anchor="end" font-size="8.2" fill="#2b2b2b" textLength="12.45" lengthAdjust="spacingAndGlyphs">100</text><text x="241.3" y="211.22" text-anchor="end" font-size="8.2" fill="#2b2b2b" textLength="12.45" lengthAdjust="spacingAndGlyphs">150</text><text x="241.3" y="194.26" text-anchor="end" font-size="8.2" fill="#2b2b2b" textLength="12.45" lengthAdjust="spacingAndGlyphs">200</text><text x="241.3" y="177.3" text-anchor="end" font-size="8.2" fill="#2b2b2b" textLength="12.45" lengthAdjust="spacingAndGlyphs">250</text><rect x="253.4" y="247.4" width="12.4" height="11.8" fill="#3db549"/><path d="M259.6 247.4V245.4M258 245.4H261.2" stroke="#232323" stroke-width="0.9" fill="none"/><line x1="259.6" y1="259.2" x2="259.6" y2="262.2" stroke="#232323" stroke-width="0.9"/><rect x="272" y="192.8" width="12.2" height="66.4" fill="#f7931e"/><path d="M278.1 192.8V181.5M276.5 181.5H279.7" stroke="#232323" stroke-width="0.9" fill="none"/><line x1="278.1" y1="259.2" x2="278.1" y2="262.2" stroke="#232323" stroke-width="0.9"/><rect x="290.3" y="211.5" width="12.5" height="47.7" fill="#0f5189"/><path d="M296.55 211.5V208.9M294.95 208.9H298.15" stroke="#232323" stroke-width="0.9" fill="none"/><line x1="296.55" y1="259.2" x2="296.55" y2="262.2" stroke="#232323" stroke-width="0.9"/><rect x="309.2" y="228.9" width="12.3" height="30.3" fill="#c8202f"/><path d="M315.35 228.9V224.3M313.75 224.3H316.95" stroke="#232323" stroke-width="0.9" fill="none"/><line x1="315.35" y1="259.2" x2="315.35" y2="262.2" stroke="#232323" stroke-width="0.9"/><path d="M259.5 243V176.2H276.2V179.2" stroke="#232323" stroke-width="1" fill="none"/><text x="268" y="175.6" text-anchor="middle" font-size="8.4" font-weight="bold" letter-spacing="0.2" fill="#222">****</text><path d="M279.7 177.7V175.4H296.5V200.3" stroke="#232323" stroke-width="1" fill="none"/><text x="287.7" y="175.6" text-anchor="middle" font-size="8.4" font-weight="bold" letter-spacing="0.2" fill="#222">*</text><path d="M279.2 173V166.5H315.4V219.2" stroke="#232323" stroke-width="1" fill="none"/><text x="297.7" y="166.7" text-anchor="middle" font-size="8.4" font-weight="bold" letter-spacing="0.2" fill="#222">***</text><text transform="translate(221.6,216.6) rotate(-90)" text-anchor="middle" font-size="8.2" fill="#2b2b2b" textLength="40.6" lengthAdjust="spacingAndGlyphs">IL-6 (pg/mL)</text><text transform="translate(262.1,265.6) rotate(-90)" text-anchor="end" font-size="9.1" fill="#2b2b2b" textLength="26.2" lengthAdjust="spacingAndGlyphs">Control</text><text transform="translate(280.6,265.6) rotate(-90)" text-anchor="end" font-size="9.1" fill="#2b2b2b" textLength="26.2" lengthAdjust="spacingAndGlyphs">Control</text><text transform="translate(299.05,265.6) rotate(-90)" text-anchor="end" font-size="9.1" fill="#2b2b2b" textLength="29.6" lengthAdjust="spacingAndGlyphs">Con EVs</text><text transform="translate(317.85,265.6) rotate(-90)" text-anchor="end" font-size="9.1" fill="#2b2b2b" textLength="32" lengthAdjust="spacingAndGlyphs">FVIIa EVs</text><line x1="271.6" y1="300.9" x2="322.7" y2="300.9" stroke="#232323" stroke-width="1"/><text x="297.1" y="309.3" text-anchor="middle" font-size="8.1" fill="#2b2b2b" textLength="13.2" lengthAdjust="spacingAndGlyphs">LPS</text><text x="210.1" y="166.7" font-size="10.6" font-weight="bold" fill="#111">C</text><line x1="372.3" y1="177.9" x2="372.3" y2="259.7" stroke="#232323" stroke-width="1.3"/><line x1="371.7" y1="259.1" x2="450.4" y2="259.1" stroke="#232323" stroke-width="1.3"/><path d="M369.1 259.1H372.3M370.3 255.87H372.3M370.3 252.64H372.3M370.3 249.42H372.3M370.3 246.19H372.3M369.1 242.96H372.3M370.3 239.73H372.3M370.3 236.5H372.3M370.3 233.28H372.3M370.3 230.05H372.3M369.1 226.82H372.3M370.3 223.59H372.3M370.3 220.36H372.3M370.3 217.14H372.3M370.3 213.91H372.3M369.1 210.68H372.3M370.3 207.45H372.3M370.3 204.22H372.3M370.3 201H372.3M370.3 197.77H372.3M369.1 194.54H372.3M370.3 191.31H372.3M370.3 188.08H372.3M370.3 184.86H372.3M370.3 181.63H372.3M369.1 178.4H372.3" stroke="#232323" stroke-width="0.9" fill="none"/><text x="367.5" y="262" text-anchor="end" font-size="8.2" fill="#2b2b2b" textLength="4.45" lengthAdjust="spacingAndGlyphs">0</text><text x="367.5" y="245.86" text-anchor="end" font-size="8.2" fill="#2b2b2b" textLength="13.35" lengthAdjust="spacingAndGlyphs">500</text><text x="367.5" y="229.72" text-anchor="end" font-size="8.2" fill="#2b2b2b" textLength="17.8" lengthAdjust="spacingAndGlyphs">1000</text><text x="367.5" y="213.58" text-anchor="end" font-size="8.2" fill="#2b2b2b" textLength="17.8" lengthAdjust="spacingAndGlyphs">1500</text><text x="367.5" y="197.44" text-anchor="end" font-size="8.2" fill="#2b2b2b" textLength="17.8" lengthAdjust="spacingAndGlyphs">2000</text><text x="367.5" y="181.3" text-anchor="end" font-size="8.2" fill="#2b2b2b" textLength="17.8" lengthAdjust="spacingAndGlyphs">2500</text><rect x="378.4" y="244.2" width="12.3" height="14.9" fill="#3db549"/><path d="M384.55 244.2V240.5M382.95 240.5H386.15" stroke="#232323" stroke-width="0.9" fill="none"/><line x1="384.55" y1="259.1" x2="384.55" y2="262.1" stroke="#232323" stroke-width="0.9"/><rect x="396.2" y="194.7" width="12.3" height="64.4" fill="#f7931e"/><path d="M402.35 194.7V191.5M400.75 191.5H403.95" stroke="#232323" stroke-width="0.9" fill="none"/><line x1="402.35" y1="259.1" x2="402.35" y2="262.1" stroke="#232323" stroke-width="0.9"/><rect x="414.2" y="205.8" width="12.3" height="53.3" fill="#0f5189"/><path d="M420.35 205.8V200.8M418.75 200.8H421.95" stroke="#232323" stroke-width="0.9" fill="none"/><line x1="420.35" y1="259.1" x2="420.35" y2="262.1" stroke="#232323" stroke-width="0.9"/><rect x="432.2" y="221.2" width="12" height="37.9" fill="#c8202f"/><path d="M438.2 221.2V214.2M436.6 214.2H439.8" stroke="#232323" stroke-width="0.9" fill="none"/><line x1="438.2" y1="259.1" x2="438.2" y2="262.1" stroke="#232323" stroke-width="0.9"/><path d="M384.5 235.4V186.5H401.5V188.5" stroke="#232323" stroke-width="1" fill="none"/><text x="392.7" y="185.3" text-anchor="middle" font-size="8.4" font-weight="bold" letter-spacing="0.2" fill="#222">****</text><path d="M403.6 188.5V186.5H420.4V196.9" stroke="#232323" stroke-width="1" fill="none"/><text x="412.7" y="183.4" text-anchor="middle" font-size="7.6" fill="#2b2b2b">ns</text><path d="M403.5 181.5V174.2H438.1V209.5" stroke="#232323" stroke-width="1" fill="none"/><text x="421.2" y="174.1" text-anchor="middle" font-size="8.4" font-weight="bold" letter-spacing="0.2" fill="#222">***</text><text transform="translate(341.8,218.6) rotate(-90)" text-anchor="middle" font-size="8.2" fill="#2b2b2b" textLength="45.7" lengthAdjust="spacingAndGlyphs">IL-1β (pg/mL)</text><text transform="translate(387.05,265.6) rotate(-90)" text-anchor="end" font-size="9.1" fill="#2b2b2b" textLength="26.2" lengthAdjust="spacingAndGlyphs">Control</text><text transform="translate(404.85,265.6) rotate(-90)" text-anchor="end" font-size="9.1" fill="#2b2b2b" textLength="26.2" lengthAdjust="spacingAndGlyphs">Control</text><text transform="translate(422.85,265.6) rotate(-90)" text-anchor="end" font-size="9.1" fill="#2b2b2b" textLength="29.6" lengthAdjust="spacingAndGlyphs">Con EVs</text><text transform="translate(440.7,265.6) rotate(-90)" text-anchor="end" font-size="9.1" fill="#2b2b2b" textLength="32" lengthAdjust="spacingAndGlyphs">FVIIa EVs</text><line x1="397.4" y1="300.9" x2="448.1" y2="300.9" stroke="#232323" stroke-width="1"/><text x="421.9" y="309.3" text-anchor="middle" font-size="8.1" fill="#2b2b2b" textLength="13.2" lengthAdjust="spacingAndGlyphs">LPS</text><text x="338.9" y="167.2" font-size="10.6" font-weight="bold" fill="#111" textLength="8.6" lengthAdjust="spacingAndGlyphs">D</text><line x1="47.4" y1="349.6" x2="47.4" y2="430.8" stroke="#232323" stroke-width="1.3"/><line x1="46.8" y1="430.2" x2="124.6" y2="430.2" stroke="#232323" stroke-width="1.3"/><path d="M44.2 430.2H47.4M45.4 426.19H47.4M45.4 422.19H47.4M45.4 418.19H47.4M45.4 414.18H47.4M44.2 410.18H47.4M45.4 406.17H47.4M45.4 402.17H47.4M45.4 398.16H47.4M45.4 394.16H47.4M44.2 390.15H47.4M45.4 386.14H47.4M45.4 382.14H47.4M45.4 378.13H47.4M45.4 374.13H47.4M44.2 370.12H47.4M45.4 366.12H47.4M45.4 362.12H47.4M45.4 358.11H47.4M45.4 354.11H47.4M44.2 350.1H47.4" stroke="#232323" stroke-width="0.9" fill="none"/><text x="42.3" y="433.1" text-anchor="end" font-size="8.2" fill="#2b2b2b" textLength="4.15" lengthAdjust="spacingAndGlyphs">0</text><text x="42.3" y="413.07" text-anchor="end" font-size="8.2" fill="#2b2b2b" textLength="12.45" lengthAdjust="spacingAndGlyphs">200</text><text x="42.3" y="393.05" text-anchor="end" font-size="8.2" fill="#2b2b2b" textLength="12.45" lengthAdjust="spacingAndGlyphs">400</text><text x="42.3" y="373.02" text-anchor="end" font-size="8.2" fill="#2b2b2b" textLength="12.45" lengthAdjust="spacingAndGlyphs">600</text><text x="42.3" y="353" text-anchor="end" font-size="8.2" fill="#2b2b2b" textLength="12.45" lengthAdjust="spacingAndGlyphs">800</text><rect x="53.2" y="416.8" width="12.3" height="13.4" fill="#3db549"/><path d="M59.35 416.8V415.4M57.75 415.4H60.95" stroke="#232323" stroke-width="0.9" fill="none"/><line x1="59.35" y1="430.2" x2="59.35" y2="433.2" stroke="#232323" stroke-width="0.9"/><rect x="71.2" y="362" width="12.3" height="68.2" fill="#f7931e"/><path d="M77.35 362V360.8M75.75 360.8H78.95" stroke="#232323" stroke-width="0.9" fill="none"/><line x1="77.35" y1="430.2" x2="77.35" y2="433.2" stroke="#232323" stroke-width="0.9"/><rect x="89.2" y="361.5" width="12.4" height="68.7" fill="#0f5189"/><path d="M95.4 361.5V359.7M93.8 359.7H97" stroke="#232323" stroke-width="0.9" fill="none"/><line x1="95.4" y1="430.2" x2="95.4" y2="433.2" stroke="#232323" stroke-width="0.9"/><rect x="107.3" y="385.8" width="12.3" height="44.4" fill="#c8202f"/><path d="M113.45 385.8V384.6M111.85 384.6H115.05" stroke="#232323" stroke-width="0.9" fill="none"/><line x1="113.45" y1="430.2" x2="113.45" y2="433.2" stroke="#232323" stroke-width="0.9"/><path d="M59.3 412.3V353.8H77.6V357" stroke="#232323" stroke-width="1" fill="none"/><text x="68" y="353.8" text-anchor="middle" font-size="8.4" font-weight="bold" letter-spacing="0.2" fill="#222">****</text><path d="M79.6 356.5V353.5H95.8V357.7" stroke="#232323" stroke-width="1" fill="none"/><text x="88.5" y="351.4" text-anchor="middle" font-size="7.6" fill="#2b2b2b">ns</text><path d="M79.9 350V342.6H113.5V382.3" stroke="#232323" stroke-width="1" fill="none"/><text x="97.3" y="342.1" text-anchor="middle" font-size="8.4" font-weight="bold" letter-spacing="0.2" fill="#222">****</text><text transform="translate(20,389.7) rotate(-90)" text-anchor="middle" font-size="8.2" fill="#2b2b2b" textLength="46.8" lengthAdjust="spacingAndGlyphs">TNFα (pg/mL)</text><text transform="translate(61.85,436.1) rotate(-90)" text-anchor="end" font-size="9.1" fill="#2b2b2b" textLength="26.2" lengthAdjust="spacingAndGlyphs">Control</text><text transform="translate(79.85,436.1) rotate(-90)" text-anchor="end" font-size="9.1" fill="#2b2b2b" textLength="26.2" lengthAdjust="spacingAndGlyphs">Control</text><text transform="translate(97.9,436.1) rotate(-90)" text-anchor="end" font-size="9.1" fill="#2b2b2b" textLength="29.6" lengthAdjust="spacingAndGlyphs">Con EVs</text><text transform="translate(115.95,436.1) rotate(-90)" text-anchor="end" font-size="9.1" fill="#2b2b2b" textLength="32" lengthAdjust="spacingAndGlyphs">FVIIa EVs</text><line x1="71.7" y1="471.6" x2="122.7" y2="471.6" stroke="#232323" stroke-width="1"/><text x="97.3" y="480.6" text-anchor="middle" font-size="8.1" fill="#2b2b2b" textLength="13.2" lengthAdjust="spacingAndGlyphs">LPS</text><text x="12.8" y="340.8" font-size="10.6" font-weight="bold" fill="#111">E</text><line x1="179.6" y1="345.5" x2="179.6" y2="430.8" stroke="#232323" stroke-width="1.3"/><line x1="179" y1="430.2" x2="258" y2="430.2" stroke="#232323" stroke-width="1.3"/><path d="M176.4 430.2H179.6M177.6 424.59H179.6M177.6 418.97H179.6M177.6 413.36H179.6M177.6 407.75H179.6M176.4 402.13H179.6M177.6 396.52H179.6M177.6 390.91H179.6M177.6 385.29H179.6M177.6 379.68H179.6M176.4 374.07H179.6M177.6 368.45H179.6M177.6 362.84H179.6M177.6 357.23H179.6M177.6 351.61H179.6M176.4 346H179.6" stroke="#232323" stroke-width="0.9" fill="none"/><text x="173.5" y="433.1" text-anchor="end" font-size="8.2" fill="#2b2b2b" textLength="4.15" lengthAdjust="spacingAndGlyphs">0</text><text x="173.5" y="405.03" text-anchor="end" font-size="8.2" fill="#2b2b2b" textLength="12.45" lengthAdjust="spacingAndGlyphs">100</text><text x="173.5" y="376.97" text-anchor="end" font-size="8.2" fill="#2b2b2b" textLength="12.45" lengthAdjust="spacingAndGlyphs">200</text><text x="173.5" y="348.9" text-anchor="end" font-size="8.2" fill="#2b2b2b" textLength="12.45" lengthAdjust="spacingAndGlyphs">300</text><rect x="186.2" y="415.7" width="12.3" height="14.5" fill="#3db549"/><path d="M192.35 415.7V411M190.75 411H193.95" stroke="#232323" stroke-width="0.9" fill="none"/><line x1="192.35" y1="430.2" x2="192.35" y2="433.2" stroke="#232323" stroke-width="0.9"/><rect x="204.3" y="362.8" width="12.6" height="67.4" fill="#f7931e"/><path d="M210.6 362.8V359.2M209 359.2H212.2" stroke="#232323" stroke-width="0.9" fill="none"/><line x1="210.6" y1="430.2" x2="210.6" y2="433.2" stroke="#232323" stroke-width="0.9"/><rect x="223.1" y="381.1" width="12" height="49.1" fill="#0f5189"/><path d="M229.1 381.1V368.8M227.5 368.8H230.7" stroke="#232323" stroke-width="0.9" fill="none"/><line x1="229.1" y1="430.2" x2="229.1" y2="433.2" stroke="#232323" stroke-width="0.9"/><rect x="241.5" y="411.2" width="12.3" height="19" fill="#c8202f"/><path d="M247.65 411.2V405M246.05 405H249.25" stroke="#232323" stroke-width="0.9" fill="none"/><line x1="247.65" y1="430.2" x2="247.65" y2="433.2" stroke="#232323" stroke-width="0.9"/><path d="M192.3 406.9V353.3H210V356.5" stroke="#232323" stroke-width="1" fill="none"/><text x="200.8" y="353.1" text-anchor="middle" font-size="8.4" font-weight="bold" letter-spacing="0.2" fill="#222">****</text><path d="M212.6 356.5V353H229.2V364.6" stroke="#232323" stroke-width="1" fill="none"/><text x="221.2" y="350.7" text-anchor="middle" font-size="7.6" fill="#2b2b2b">ns</text><path d="M212.3 347V340.5H247.4V401.5" stroke="#232323" stroke-width="1" fill="none"/><text x="229.2" y="340.6" text-anchor="middle" font-size="8.4" font-weight="bold" letter-spacing="0.2" fill="#222">***</text><text transform="translate(152.7,388.1) rotate(-90)" text-anchor="middle" font-size="8.2" fill="#2b2b2b" textLength="40.5" lengthAdjust="spacingAndGlyphs">IL-6 (pg/mL)</text><text transform="translate(194.85,436.1) rotate(-90)" text-anchor="end" font-size="9.1" fill="#2b2b2b" textLength="26.2" lengthAdjust="spacingAndGlyphs">Control</text><text transform="translate(213.1,436.1) rotate(-90)" text-anchor="end" font-size="9.1" fill="#2b2b2b" textLength="26.2" lengthAdjust="spacingAndGlyphs">Control</text><text transform="translate(231.6,436.1) rotate(-90)" text-anchor="end" font-size="9.1" fill="#2b2b2b" textLength="29.6" lengthAdjust="spacingAndGlyphs">Con EVs</text><text transform="translate(250.15,436.1) rotate(-90)" text-anchor="end" font-size="9.1" fill="#2b2b2b" textLength="32" lengthAdjust="spacingAndGlyphs">FVIIa EVs</text><line x1="204.2" y1="471.6" x2="255" y2="471.6" stroke="#232323" stroke-width="1"/><text x="230" y="480.6" text-anchor="middle" font-size="8.1" fill="#2b2b2b" textLength="13.2" lengthAdjust="spacingAndGlyphs">LPS</text><text x="142" y="337.5" font-size="10.6" font-weight="bold" fill="#111">F</text><line x1="316.2" y1="340.9" x2="316.2" y2="428.7" stroke="#232323" stroke-width="1.3"/><line x1="315.6" y1="428.1" x2="393.8" y2="428.1" stroke="#232323" stroke-width="1.3"/><path d="M313 428.1H316.2M314.2 422.32H316.2M314.2 416.54H316.2M314.2 410.76H316.2M314.2 404.98H316.2M313 399.2H316.2M314.2 393.42H316.2M314.2 387.64H316.2M314.2 381.86H316.2M314.2 376.08H316.2M313 370.3H316.2M314.2 364.52H316.2M314.2 358.74H316.2M314.2 352.96H316.2M314.2 347.18H316.2M313 341.4H316.2" stroke="#232323" stroke-width="0.9" fill="none"/><text x="311.1" y="431" text-anchor="end" font-size="8.2" fill="#2b2b2b" textLength="4.15" lengthAdjust="spacingAndGlyphs">0</text><text x="311.1" y="402.1" text-anchor="end" font-size="8.2" fill="#2b2b2b" textLength="12.45" lengthAdjust="spacingAndGlyphs">500</text><text x="311.1" y="373.2" text-anchor="end" font-size="8.2" fill="#2b2b2b" textLength="16.6" lengthAdjust="spacingAndGlyphs">1000</text><text x="311.1" y="344.3" text-anchor="end" font-size="8.2" fill="#2b2b2b" textLength="16.6" lengthAdjust="spacingAndGlyphs">1500</text><rect x="322.5" y="396.2" width="12.5" height="31.9" fill="#3db549"/><path d="M328.75 396.2V389.2M327.15 389.2H330.35" stroke="#232323" stroke-width="0.9" fill="none"/><line x1="328.75" y1="428.1" x2="328.75" y2="431.1" stroke="#232323" stroke-width="0.9"/><rect x="340.1" y="357.7" width="12.6" height="70.4" fill="#f7931e"/><path d="M346.4 357.7V354.6M344.8 354.6H348" stroke="#232323" stroke-width="0.9" fill="none"/><line x1="346.4" y1="428.1" x2="346.4" y2="431.1" stroke="#232323" stroke-width="0.9"/><rect x="357.8" y="359.2" width="12.3" height="68.9" fill="#0f5189"/><path d="M363.95 359.2V355.4M362.35 355.4H365.55" stroke="#232323" stroke-width="0.9" fill="none"/><line x1="363.95" y1="428.1" x2="363.95" y2="431.1" stroke="#232323" stroke-width="0.9"/><rect x="375.8" y="391.5" width="12" height="36.6" fill="#c8202f"/><path d="M381.8 391.5V384.2M380.2 384.2H383.4" stroke="#232323" stroke-width="0.9" fill="none"/><line x1="381.8" y1="428.1" x2="381.8" y2="431.1" stroke="#232323" stroke-width="0.9"/><path d="M328.6 386V348.2H345.8V351.5" stroke="#232323" stroke-width="1" fill="none"/><text x="337" y="347.6" text-anchor="middle" font-size="8.4" font-weight="bold" letter-spacing="0.2" fill="#222">****</text><path d="M348.5 351.2V348.2H363.8V352.3" stroke="#232323" stroke-width="1" fill="none"/><text x="357" y="345.7" text-anchor="middle" font-size="7.6" fill="#2b2b2b">ns</text><path d="M348.1 342.3V336.2H381.5V380" stroke="#232323" stroke-width="1" fill="none"/><text x="363.5" y="335.9" text-anchor="middle" font-size="8.4" font-weight="bold" letter-spacing="0.2" fill="#222">***</text><text transform="translate(286.9,384.6) rotate(-90)" text-anchor="middle" font-size="8.2" fill="#2b2b2b" textLength="46" lengthAdjust="spacingAndGlyphs">IL-1β (pg/mL)</text><text transform="translate(331.25,434) rotate(-90)" text-anchor="end" font-size="9.1" fill="#2b2b2b" textLength="26.2" lengthAdjust="spacingAndGlyphs">Control</text><text transform="translate(348.9,434) rotate(-90)" text-anchor="end" font-size="9.1" fill="#2b2b2b" textLength="26.2" lengthAdjust="spacingAndGlyphs">Control</text><text transform="translate(366.45,434) rotate(-90)" text-anchor="end" font-size="9.1" fill="#2b2b2b" textLength="29.6" lengthAdjust="spacingAndGlyphs">Con EVs</text><text transform="translate(384.3,434) rotate(-90)" text-anchor="end" font-size="9.1" fill="#2b2b2b" textLength="32" lengthAdjust="spacingAndGlyphs">FVIIa EVs</text><line x1="341.3" y1="469.8" x2="392.7" y2="469.8" stroke="#232323" stroke-width="1"/><text x="367.1" y="478.7" text-anchor="middle" font-size="8.1" fill="#2b2b2b" textLength="13.2" lengthAdjust="spacingAndGlyphs">LPS</text><text x="279.6" y="339.8" font-size="10.6" font-weight="bold" fill="#111" textLength="9" lengthAdjust="spacingAndGlyphs">G</text><line x1="442.4" y1="349.2" x2="442.4" y2="428.7" stroke="#232323" stroke-width="1.3"/><line x1="441.8" y1="428.1" x2="512.7" y2="428.1" stroke="#232323" stroke-width="1.3"/><path d="M439.2 428.1H442.4M440.4 425.49H442.4M440.4 422.87H442.4M440.4 420.26H442.4M440.4 417.65H442.4M439.2 415.03H442.4M440.4 412.42H442.4M440.4 409.81H442.4M440.4 407.19H442.4M440.4 404.58H442.4M439.2 401.97H442.4M440.4 399.35H442.4M440.4 396.74H442.4M440.4 394.13H442.4M440.4 391.51H442.4M439.2 388.9H442.4M440.4 386.29H442.4M440.4 383.67H442.4M440.4 381.06H442.4M440.4 378.45H442.4M439.2 375.83H442.4M440.4 373.22H442.4M440.4 370.61H442.4M440.4 367.99H442.4M440.4 365.38H442.4M439.2 362.77H442.4M440.4 360.15H442.4M440.4 357.54H442.4M440.4 354.93H442.4M440.4 352.31H442.4M439.2 349.7H442.4" stroke="#232323" stroke-width="0.9" fill="none"/><text x="436.2" y="431" text-anchor="end" font-size="8.2" fill="#2b2b2b" textLength="4.15" lengthAdjust="spacingAndGlyphs">0</text><text x="436.2" y="417.93" text-anchor="end" font-size="8.2" fill="#2b2b2b" textLength="4.15" lengthAdjust="spacingAndGlyphs">1</text><text x="436.2" y="404.87" text-anchor="end" font-size="8.2" fill="#2b2b2b" textLength="4.15" lengthAdjust="spacingAndGlyphs">2</text><text x="436.2" y="391.8" text-anchor="end" font-size="8.2" fill="#2b2b2b" textLength="4.15" lengthAdjust="spacingAndGlyphs">3</text><text x="436.2" y="378.73" text-anchor="end" font-size="8.2" fill="#2b2b2b" textLength="4.15" lengthAdjust="spacingAndGlyphs">4</text><text x="436.2" y="365.67" text-anchor="end" font-size="8.2" fill="#2b2b2b" textLength="4.15" lengthAdjust="spacingAndGlyphs">5</text><text x="436.2" y="352.6" text-anchor="end" font-size="8.2" fill="#2b2b2b" textLength="4.15" lengthAdjust="spacingAndGlyphs">6</text><rect x="447.3" y="399.2" width="10.7" height="28.9" fill="#0f5189"/><path d="M452.65 399.2V394.3M451.05 394.3H454.25" stroke="#232323" stroke-width="0.9" fill="none"/><line x1="452.65" y1="428.1" x2="452.65" y2="431.1" stroke="#232323" stroke-width="0.9"/><rect x="464.2" y="359.2" width="10.4" height="68.9" fill="#c8202f"/><path d="M469.4 359.2V354.3M467.8 354.3H471" stroke="#232323" stroke-width="0.9" fill="none"/><line x1="469.4" y1="428.1" x2="469.4" y2="431.1" stroke="#232323" stroke-width="0.9"/><rect x="480.3" y="401.1" width="10.7" height="27" fill="#5c2468"/><path d="M485.65 401.1V399.2M484.05 399.2H487.25" stroke="#232323" stroke-width="0.9" fill="none"/><line x1="485.65" y1="428.1" x2="485.65" y2="431.1" stroke="#232323" stroke-width="0.9"/><rect x="496.7" y="373.1" width="10.2" height="55" fill="#857fc0"/><path d="M501.8 373.1V368.2M500.2 368.2H503.4" stroke="#232323" stroke-width="0.9" fill="none"/><line x1="501.8" y1="428.1" x2="501.8" y2="431.1" stroke="#232323" stroke-width="0.9"/><path d="M452.4 390.2V350.2H469.4V351.8" stroke="#232323" stroke-width="1" fill="none"/><text x="460.9" y="350.2" text-anchor="middle" font-size="8.4" font-weight="bold" letter-spacing="0.2" fill="#222">***</text><path d="M452.4 347.4V342.9H485.4V398.7" stroke="#232323" stroke-width="1" fill="none"/><text x="470.2" y="340.5" text-anchor="middle" font-size="7.6" fill="#2b2b2b">ns</text><path d="M452.4 340.4V333.4H501.7V362.8" stroke="#232323" stroke-width="1" fill="none"/><text x="475.6" y="332.3" text-anchor="middle" font-size="8.4" font-weight="bold" letter-spacing="0.2" fill="#222">**</text><text transform="translate(425.1,389.2) rotate(-90)" text-anchor="middle" font-size="8.9" fill="#2b2b2b" textLength="87.6" lengthAdjust="spacingAndGlyphs">Number of EVs/mL (× 10<tspan font-size="6.4" dy="-3.3">8</tspan><tspan dy="3.3">)</tspan></text><text transform="translate(455.05,433.4) rotate(-90)" text-anchor="end" font-size="9.1" fill="#2b2b2b" textLength="27.6" lengthAdjust="spacingAndGlyphs">Control</text><text transform="translate(471.8,433.4) rotate(-90)" text-anchor="end" font-size="9.1" fill="#2b2b2b" textLength="22.3" lengthAdjust="spacingAndGlyphs">hFVIIa</text><text transform="translate(488.05,433.4) rotate(-90)" text-anchor="end" font-size="9.1" fill="#2b2b2b" textLength="24" lengthAdjust="spacingAndGlyphs">mFVIIa</text><text transform="translate(504.2,433.4) rotate(-90)" text-anchor="end" font-size="9.1" fill="#2b2b2b" textLength="34.3" lengthAdjust="spacingAndGlyphs">mFVIIa<tspan font-size="6.6" dy="2">L4F</tspan></text><text x="408.4" y="339.9" font-size="10.6" font-weight="bold" fill="#111" textLength="8.4" lengthAdjust="spacingAndGlyphs">H</text><line x1="103.6" y1="545.6" x2="103.6" y2="624.8" stroke="#232323" stroke-width="1.3"/><line x1="103" y1="624.2" x2="190.9" y2="624.2" stroke="#232323" stroke-width="1.3"/><path d="M100.4 624.2H103.6M101.6 620.3H103.6M101.6 616.39H103.6M101.6 612.49H103.6M101.6 608.58H103.6M100.4 604.68H103.6M101.6 600.77H103.6M101.6 596.87H103.6M101.6 592.96H103.6M101.6 589.06H103.6M100.4 585.15H103.6M101.6 581.25H103.6M101.6 577.34H103.6M101.6 573.44H103.6M101.6 569.53H103.6M100.4 565.62H103.6M101.6 561.72H103.6M101.6 557.82H103.6M101.6 553.91H103.6M101.6 550H103.6M100.4 546.1H103.6" stroke="#232323" stroke-width="0.9" fill="none"/><text x="98.4" y="627.1" text-anchor="end" font-size="8.2" fill="#2b2b2b" textLength="4.15" lengthAdjust="spacingAndGlyphs">0</text><text x="98.4" y="607.58" text-anchor="end" font-size="8.2" fill="#2b2b2b" textLength="12.45" lengthAdjust="spacingAndGlyphs">250</text><text x="98.4" y="588.05" text-anchor="end" font-size="8.2" fill="#2b2b2b" textLength="12.45" lengthAdjust="spacingAndGlyphs">500</text><text x="98.4" y="568.52" text-anchor="end" font-size="8.2" fill="#2b2b2b" textLength="12.45" lengthAdjust="spacingAndGlyphs">750</text><text x="98.4" y="549" text-anchor="end" font-size="8.2" fill="#2b2b2b" textLength="16.6" lengthAdjust="spacingAndGlyphs">1000</text><rect x="108.5" y="618" width="9.3" height="6.2" fill="#3db549"/><path d="M113.15 618V617M111.55 617H114.75" stroke="#232323" stroke-width="0.9" fill="none"/><line x1="113.15" y1="624.2" x2="113.15" y2="627.2" stroke="#232323" stroke-width="0.9"/><rect x="122.2" y="554.6" width="9" height="69.6" fill="#f7931e"/><path d="M126.7 554.6V551M125.1 551H128.3" stroke="#232323" stroke-width="0.9" fill="none"/><line x1="126.7" y1="624.2" x2="126.7" y2="627.2" stroke="#232323" stroke-width="0.9"/><rect x="136" y="557.3" width="8.9" height="66.9" fill="#0f5189"/><path d="M140.45 557.3V553.2M138.85 553.2H142.05" stroke="#232323" stroke-width="0.9" fill="none"/><line x1="140.45" y1="624.2" x2="140.45" y2="627.2" stroke="#232323" stroke-width="0.9"/><rect x="149.3" y="614.9" width="8.9" height="9.3" fill="#c8202f"/><path d="M153.75 614.9V613.4M152.15 613.4H155.35" stroke="#232323" stroke-width="0.9" fill="none"/><line x1="153.75" y1="624.2" x2="153.75" y2="627.2" stroke="#232323" stroke-width="0.9"/><rect x="163.1" y="557.8" width="8.9" height="66.4" fill="#5c2468"/><path d="M167.55 557.8V552M165.95 552H169.15" stroke="#232323" stroke-width="0.9" fill="none"/><line x1="167.55" y1="624.2" x2="167.55" y2="627.2" stroke="#232323" stroke-width="0.9"/><rect x="176.8" y="614.9" width="8.8" height="9.3" fill="#857fc0"/><path d="M181.2 614.9V613.4M179.6 613.4H182.8" stroke="#232323" stroke-width="0.9" fill="none"/><line x1="181.2" y1="624.2" x2="181.2" y2="627.2" stroke="#232323" stroke-width="0.9"/><path d="M113 612.2V547H125.4V549.3" stroke="#232323" stroke-width="1" fill="none"/><text x="116.5" y="546.7" text-anchor="middle" font-size="8.4" font-weight="bold" letter-spacing="0.2" fill="#222">****</text><path d="M127.1 549.5V547H141V551.4" stroke="#232323" stroke-width="1" fill="none"/><text x="134.2" y="544.8" text-anchor="middle" font-size="7.6" fill="#2b2b2b">ns</text><path d="M127.1 541V536H154.3V611.3" stroke="#232323" stroke-width="1" fill="none"/><text x="140.4" y="535.7" text-anchor="middle" font-size="8.4" font-weight="bold" letter-spacing="0.2" fill="#222">****</text><path d="M127.1 532V525.9H167.4V549.3" stroke="#232323" stroke-width="1" fill="none"/><text x="148.4" y="523.2" text-anchor="middle" font-size="7.6" fill="#2b2b2b">ns</text><path d="M127.1 521.8V513.9H181.2V611" stroke="#232323" stroke-width="1" fill="none"/><text x="152.8" y="512.6" text-anchor="middle" font-size="8.4" font-weight="bold" letter-spacing="0.2" fill="#222">****</text><text transform="translate(76.4,584.1) rotate(-90)" text-anchor="middle" font-size="8.2" fill="#2b2b2b" textLength="46.6" lengthAdjust="spacingAndGlyphs">TNFα (pg/mL)</text><text transform="translate(115.45,630) rotate(-90)" text-anchor="end" font-size="9.1" fill="#2b2b2b" textLength="27.1" lengthAdjust="spacingAndGlyphs">Control</text><text transform="translate(129,630) rotate(-90)" text-anchor="end" font-size="9.1" fill="#2b2b2b" textLength="27.1" lengthAdjust="spacingAndGlyphs">Control</text><text transform="translate(142.75,630) rotate(-90)" text-anchor="end" font-size="9.1" fill="#2b2b2b" textLength="30.6" lengthAdjust="spacingAndGlyphs">Con EVs</text><text transform="translate(156.05,630) rotate(-90)" text-anchor="end" font-size="9.1" fill="#2b2b2b" textLength="40" lengthAdjust="spacingAndGlyphs">hFVIIa EVs</text><text transform="translate(169.85,630) rotate(-90)" text-anchor="end" font-size="9.1" fill="#2b2b2b" textLength="39.6" lengthAdjust="spacingAndGlyphs">mFVIIa EVs</text><text transform="translate(183.5,630) rotate(-90)" text-anchor="end" font-size="9.1" fill="#2b2b2b" textLength="48.8" lengthAdjust="spacingAndGlyphs">mFVIIa<tspan font-size="6.6" dy="2">L4F</tspan><tspan dy="-2"> EVs</tspan></text><line x1="125" y1="683.1" x2="185.6" y2="683.1" stroke="#232323" stroke-width="1"/><text x="155.8" y="692.3" text-anchor="middle" font-size="8.1" fill="#2b2b2b" textLength="13.2" lengthAdjust="spacingAndGlyphs">LPS</text><text x="69.7" y="517.8" font-size="10.6" font-weight="bold" fill="#111">I</text><line x1="236.8" y1="540.5" x2="236.8" y2="624.7" stroke="#232323" stroke-width="1.3"/><line x1="236.2" y1="624.1" x2="324" y2="624.1" stroke="#232323" stroke-width="1.3"/><path d="M233.6 624.1H236.8M234.8 619.95H236.8M234.8 615.79H236.8M234.8 611.63H236.8M234.8 607.48H236.8M233.6 603.33H236.8M234.8 599.17H236.8M234.8 595.02H236.8M234.8 590.86H236.8M234.8 586.71H236.8M233.6 582.55H236.8M234.8 578.39H236.8M234.8 574.24H236.8M234.8 570.08H236.8M234.8 565.93H236.8M233.6 561.77H236.8M234.8 557.62H236.8M234.8 553.46H236.8M234.8 549.31H236.8M234.8 545.15H236.8M233.6 541H236.8" stroke="#232323" stroke-width="0.9" fill="none"/><text x="231.6" y="627" text-anchor="end" font-size="8.2" fill="#2b2b2b" textLength="4.15" lengthAdjust="spacingAndGlyphs">0</text><text x="231.6" y="606.23" text-anchor="end" font-size="8.2" fill="#2b2b2b" textLength="8.3" lengthAdjust="spacingAndGlyphs">20</text><text x="231.6" y="585.45" text-anchor="end" font-size="8.2" fill="#2b2b2b" textLength="8.3" lengthAdjust="spacingAndGlyphs">40</text><text x="231.6" y="564.67" text-anchor="end" font-size="8.2" fill="#2b2b2b" textLength="8.3" lengthAdjust="spacingAndGlyphs">60</text><text x="231.6" y="543.9" text-anchor="end" font-size="8.2" fill="#2b2b2b" textLength="8.3" lengthAdjust="spacingAndGlyphs">80</text><rect x="241.5" y="603" width="9.4" height="21.1" fill="#3db549"/><path d="M246.2 603V602.1M244.6 602.1H247.8" stroke="#232323" stroke-width="0.9" fill="none"/><line x1="246.2" y1="624.1" x2="246.2" y2="627.1" stroke="#232323" stroke-width="0.9"/><rect x="255.4" y="552.5" width="9.5" height="71.6" fill="#f7931e"/><path d="M260.15 552.5V551.4M258.55 551.4H261.75" stroke="#232323" stroke-width="0.9" fill="none"/><line x1="260.15" y1="624.1" x2="260.15" y2="627.1" stroke="#232323" stroke-width="0.9"/><rect x="269.5" y="557.3" width="9.6" height="66.8" fill="#0f5189"/><path d="M274.3 557.3V554.3M272.7 554.3H275.9" stroke="#232323" stroke-width="0.9" fill="none"/><line x1="274.3" y1="624.1" x2="274.3" y2="627.1" stroke="#232323" stroke-width="0.9"/><rect x="283.7" y="603" width="9.2" height="21.1" fill="#c8202f"/><path d="M288.3 603V600.7M286.7 600.7H289.9" stroke="#232323" stroke-width="0.9" fill="none"/><line x1="288.3" y1="624.1" x2="288.3" y2="627.1" stroke="#232323" stroke-width="0.9"/><rect x="297.9" y="557.8" width="9.2" height="66.3" fill="#5c2468"/><path d="M302.5 557.8V551.4M300.9 551.4H304.1" stroke="#232323" stroke-width="0.9" fill="none"/><line x1="302.5" y1="624.1" x2="302.5" y2="627.1" stroke="#232323" stroke-width="0.9"/><rect x="312.1" y="602.5" width="8.8" height="21.6" fill="#857fc0"/><path d="M316.5 602.5V600.7M314.9 600.7H318.1" stroke="#232323" stroke-width="0.9" fill="none"/><line x1="316.5" y1="624.1" x2="316.5" y2="627.1" stroke="#232323" stroke-width="0.9"/><path d="M246 598.9V547.2H260.1V549.3" stroke="#232323" stroke-width="1" fill="none"/><text x="249.5" y="546.7" text-anchor="middle" font-size="8.4" font-weight="bold" letter-spacing="0.2" fill="#222">****</text><path d="M262.3 549.5V547.2H274.3V551.4" stroke="#232323" stroke-width="1" fill="none"/><text x="269" y="544.4" text-anchor="middle" font-size="7.6" fill="#2b2b2b">ns</text><path d="M262.3 540V534.2H288.5V599.8" stroke="#232323" stroke-width="1" fill="none"/><text x="273.4" y="535.7" text-anchor="middle" font-size="8.4" font-weight="bold" letter-spacing="0.2" fill="#222">****</text><path d="M262.3 531V525.9H302.1V548.4" stroke="#232323" stroke-width="1" fill="none"/><text x="281.4" y="522.8" text-anchor="middle" font-size="7.6" fill="#2b2b2b">ns</text><path d="M262.3 521V513.9H316V599.8" stroke="#232323" stroke-width="1" fill="none"/><text x="285.8" y="512.6" text-anchor="middle" font-size="8.4" font-weight="bold" letter-spacing="0.2" fill="#222">****</text><text transform="translate(214,583.4) rotate(-90)" text-anchor="middle" font-size="8.2" fill="#2b2b2b" textLength="41.6" lengthAdjust="spacingAndGlyphs">IL-6 (pg/mL)</text><text transform="translate(248.5,630) rotate(-90)" text-anchor="end" font-size="9.1" fill="#2b2b2b" textLength="27.1" lengthAdjust="spacingAndGlyphs">Control</text><text transform="translate(262.45,630) rotate(-90)" text-anchor="end" font-size="9.1" fill="#2b2b2b" textLength="27.1" lengthAdjust="spacingAndGlyphs">Control</text><text transform="translate(276.6,630) rotate(-90)" text-anchor="end" font-size="9.1" fill="#2b2b2b" textLength="30.6" lengthAdjust="spacingAndGlyphs">Con EVs</text><text transform="translate(290.6,630) rotate(-90)" text-anchor="end" font-size="9.1" fill="#2b2b2b" textLength="40" lengthAdjust="spacingAndGlyphs">hFVIIa EVs</text><text transform="translate(304.8,630) rotate(-90)" text-anchor="end" font-size="9.1" fill="#2b2b2b" textLength="39.6" lengthAdjust="spacingAndGlyphs">mFVIIa EVs</text><text transform="translate(318.8,630) rotate(-90)" text-anchor="end" font-size="9.1" fill="#2b2b2b" textLength="48.8" lengthAdjust="spacingAndGlyphs">mFVIIa<tspan font-size="6.6" dy="2">L4F</tspan><tspan dy="-2"> EVs</tspan></text><line x1="257.9" y1="683.1" x2="318.8" y2="683.1" stroke="#232323" stroke-width="1"/><text x="288.3" y="692.3" text-anchor="middle" font-size="8.1" fill="#2b2b2b" textLength="13.2" lengthAdjust="spacingAndGlyphs">LPS</text><text x="198.5" y="518.8" font-size="10.6" font-weight="bold" fill="#111">J</text><line x1="399.2" y1="542.6" x2="399.2" y2="623.1" stroke="#232323" stroke-width="1.3"/><line x1="398.6" y1="622.5" x2="488.6" y2="622.5" stroke="#232323" stroke-width="1.3"/><path d="M396 622.5H399.2M397.2 619.32H399.2M397.2 616.15H399.2M397.2 612.97H399.2M397.2 609.8H399.2M396 606.62H399.2M397.2 603.44H399.2M397.2 600.27H399.2M397.2 597.09H399.2M397.2 593.92H399.2M396 590.74H399.2M397.2 587.56H399.2M397.2 584.39H399.2M397.2 581.21H399.2M397.2 578.04H399.2M396 574.86H399.2M397.2 571.68H399.2M397.2 568.51H399.2M397.2 565.33H399.2M397.2 562.16H399.2M396 558.98H399.2M397.2 555.8H399.2M397.2 552.63H399.2M397.2 549.45H399.2M397.2 546.28H399.2M396 543.1H399.2" stroke="#232323" stroke-width="0.9" fill="none"/><text x="393.4" y="625.4" text-anchor="end" font-size="8.2" fill="#2b2b2b" textLength="4.15" lengthAdjust="spacingAndGlyphs">0</text><text x="393.4" y="609.52" text-anchor="end" font-size="8.2" fill="#2b2b2b" textLength="12.45" lengthAdjust="spacingAndGlyphs">200</text><text x="393.4" y="593.64" text-anchor="end" font-size="8.2" fill="#2b2b2b" textLength="12.45" lengthAdjust="spacingAndGlyphs">400</text><text x="393.4" y="577.76" text-anchor="end" font-size="8.2" fill="#2b2b2b" textLength="12.45" lengthAdjust="spacingAndGlyphs">600</text><text x="393.4" y="561.88" text-anchor="end" font-size="8.2" fill="#2b2b2b" textLength="12.45" lengthAdjust="spacingAndGlyphs">800</text><text x="393.4" y="546" text-anchor="end" font-size="8.2" fill="#2b2b2b" textLength="16.6" lengthAdjust="spacingAndGlyphs">1000</text><rect x="403.9" y="619.3" width="9.4" height="3.2" fill="#3db549"/><path d="M408.6 619.3V617M407 617H410.2" stroke="#232323" stroke-width="0.9" fill="none"/><line x1="408.6" y1="622.5" x2="408.6" y2="625.5" stroke="#232323" stroke-width="0.9"/><rect x="418.2" y="570.9" width="9.6" height="51.6" fill="#f7931e"/><path d="M423 570.9V561.3M421.4 561.3H424.6" stroke="#232323" stroke-width="0.9" fill="none"/><line x1="423" y1="622.5" x2="423" y2="625.5" stroke="#232323" stroke-width="0.9"/><rect x="432.2" y="582.4" width="9.8" height="40.1" fill="#0f5189"/><path d="M437.1 582.4V579.8M435.5 579.8H438.7" stroke="#232323" stroke-width="0.9" fill="none"/><line x1="437.1" y1="622.5" x2="437.1" y2="625.5" stroke="#232323" stroke-width="0.9"/><rect x="446.4" y="618.4" width="9.4" height="4.1" fill="#c8202f"/><path d="M451.1 618.4V617M449.5 617H452.7" stroke="#232323" stroke-width="0.9" fill="none"/><line x1="451.1" y1="622.5" x2="451.1" y2="625.5" stroke="#232323" stroke-width="0.9"/><rect x="460.6" y="580" width="9.4" height="42.5" fill="#5c2468"/><path d="M465.3 580V579.4M463.7 579.4H466.9" stroke="#232323" stroke-width="0.9" fill="none"/><line x1="465.3" y1="622.5" x2="465.3" y2="625.5" stroke="#232323" stroke-width="0.9"/><rect x="474.8" y="617" width="9.4" height="5.5" fill="#857fc0"/><path d="M479.5 617V616.3M477.9 616.3H481.1" stroke="#232323" stroke-width="0.9" fill="none"/><line x1="479.5" y1="622.5" x2="479.5" y2="625.5" stroke="#232323" stroke-width="0.9"/><path d="M408.3 614V557.3H423.4V559" stroke="#232323" stroke-width="1" fill="none"/><text x="415" y="556.6" text-anchor="middle" font-size="8.4" font-weight="bold" letter-spacing="0.2" fill="#222">****</text><path d="M425.3 559V557.3H437.2V577" stroke="#232323" stroke-width="1" fill="none"/><text x="432.2" y="556.6" text-anchor="middle" font-size="8.4" font-weight="bold" letter-spacing="0.2" fill="#222">*</text><path d="M425.3 553V548.4H451.4V614" stroke="#232323" stroke-width="1" fill="none"/><text x="438.1" y="548.4" text-anchor="middle" font-size="8.4" font-weight="bold" letter-spacing="0.2" fill="#222">****</text><path d="M425.3 542V535.5H465.6V575.9" stroke="#232323" stroke-width="1" fill="none"/><text x="445.2" y="532" text-anchor="middle" font-size="7.6" fill="#2b2b2b">ns</text><path d="M425.3 530V522.7H479.4V613" stroke="#232323" stroke-width="1" fill="none"/><text x="452.3" y="521.9" text-anchor="middle" font-size="8.4" font-weight="bold" letter-spacing="0.2" fill="#222">****</text><text transform="translate(370.5,584.8) rotate(-90)" text-anchor="middle" font-size="8.2" fill="#2b2b2b" textLength="49.6" lengthAdjust="spacingAndGlyphs">IL-1β (pg/mL)</text><text transform="translate(410.9,628.4) rotate(-90)" text-anchor="end" font-size="9.1" fill="#2b2b2b" textLength="27.1" lengthAdjust="spacingAndGlyphs">Control</text><text transform="translate(425.3,628.4) rotate(-90)" text-anchor="end" font-size="9.1" fill="#2b2b2b" textLength="27.1" lengthAdjust="spacingAndGlyphs">Control</text><text transform="translate(439.4,628.4) rotate(-90)" text-anchor="end" font-size="9.1" fill="#2b2b2b" textLength="30.6" lengthAdjust="spacingAndGlyphs">Con EVs</text><text transform="translate(453.4,628.4) rotate(-90)" text-anchor="end" font-size="9.1" fill="#2b2b2b" textLength="40" lengthAdjust="spacingAndGlyphs">hFVIIa EVs</text><text transform="translate(467.6,628.4) rotate(-90)" text-anchor="end" font-size="9.1" fill="#2b2b2b" textLength="39.6" lengthAdjust="spacingAndGlyphs">mFVIIa EVs</text><text transform="translate(481.8,628.4) rotate(-90)" text-anchor="end" font-size="9.1" fill="#2b2b2b" textLength="48.8" lengthAdjust="spacingAndGlyphs">mFVIIa<tspan font-size="6.6" dy="2">L4F</tspan><tspan dy="-2"> EVs</tspan></text><line x1="420" y1="682.1" x2="481" y2="682.1" stroke="#232323" stroke-width="1"/><text x="450.8" y="691.4" text-anchor="middle" font-size="8.1" fill="#2b2b2b" textLength="13.2" lengthAdjust="spacingAndGlyphs">LPS</text><text x="362.4" y="519.4" font-size="10.6" font-weight="bold" fill="#111">K</text><rect x="0.5" y="0.5" width="519" height="704" fill="none" stroke="#000" stroke-width="1.2"/></svg>
</body></html>
